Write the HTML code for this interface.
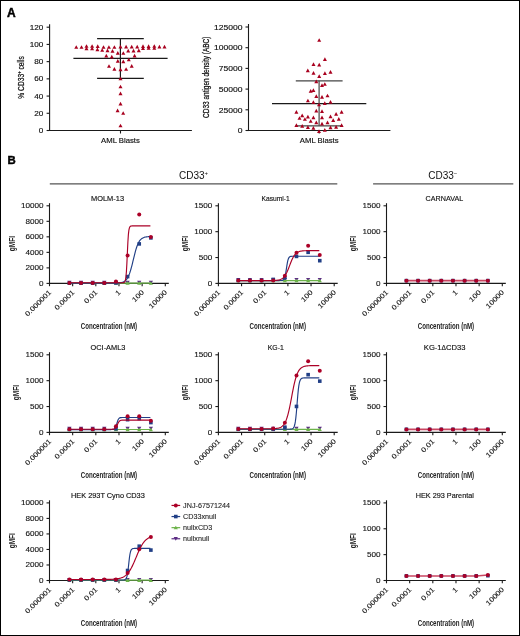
<!DOCTYPE html>
<html><head><meta charset="utf-8"><style>
html,body{margin:0;padding:0;background:#fff;}
svg{display:block;font-family:"Liberation Sans",sans-serif;will-change:transform;}
</style></head><body>
<svg width="520" height="636" viewBox="0 0 520 636">
<rect width="520" height="636" fill="#fff"/>
<rect x="0.5" y="0.5" width="519" height="635" fill="none" stroke="#000" stroke-width="1"/>
<text transform="translate(7,16.9)" font-size="12.0" text-anchor="start" font-weight="bold" fill="#000" stroke="#000" stroke-width="0.45">A</text>
<text transform="translate(7.4,164.1)" font-size="11.4" text-anchor="start" font-weight="bold" fill="#000" stroke="#000" stroke-width="0.45">B</text>
<line x1="49.6" y1="24.2" x2="49.6" y2="131.05" stroke="#1a1a1a" stroke-width="1.1"/>
<line x1="49.05" y1="130.5" x2="191.9" y2="130.5" stroke="#1a1a1a" stroke-width="1.1"/>
<line x1="46.6" y1="130.5" x2="49.6" y2="130.5" stroke="#1a1a1a" stroke-width="1.1"/>
<text transform="translate(43.4,133.1) scale(1.120,1)" font-size="7.3" text-anchor="end" font-weight="normal" fill="#111" stroke="#111" stroke-width="0.15">0</text>
<line x1="46.6" y1="113.28" x2="49.6" y2="113.28" stroke="#1a1a1a" stroke-width="1.1"/>
<text transform="translate(43.4,115.88) scale(1.120,1)" font-size="7.3" text-anchor="end" font-weight="normal" fill="#111" stroke="#111" stroke-width="0.15">20</text>
<line x1="46.6" y1="96.07" x2="49.6" y2="96.07" stroke="#1a1a1a" stroke-width="1.1"/>
<text transform="translate(43.4,98.67) scale(1.120,1)" font-size="7.3" text-anchor="end" font-weight="normal" fill="#111" stroke="#111" stroke-width="0.15">40</text>
<line x1="46.6" y1="78.85" x2="49.6" y2="78.85" stroke="#1a1a1a" stroke-width="1.1"/>
<text transform="translate(43.4,81.45) scale(1.120,1)" font-size="7.3" text-anchor="end" font-weight="normal" fill="#111" stroke="#111" stroke-width="0.15">60</text>
<line x1="46.6" y1="61.63" x2="49.6" y2="61.63" stroke="#1a1a1a" stroke-width="1.1"/>
<text transform="translate(43.4,64.23) scale(1.120,1)" font-size="7.3" text-anchor="end" font-weight="normal" fill="#111" stroke="#111" stroke-width="0.15">80</text>
<line x1="46.6" y1="44.42" x2="49.6" y2="44.42" stroke="#1a1a1a" stroke-width="1.1"/>
<text transform="translate(43.4,47.02) scale(1.120,1)" font-size="7.3" text-anchor="end" font-weight="normal" fill="#111" stroke="#111" stroke-width="0.15">100</text>
<line x1="46.6" y1="27.2" x2="49.6" y2="27.2" stroke="#1a1a1a" stroke-width="1.1"/>
<text transform="translate(43.4,29.8) scale(1.120,1)" font-size="7.3" text-anchor="end" font-weight="normal" fill="#111" stroke="#111" stroke-width="0.15">120</text>
<line x1="120.5" y1="130.5" x2="120.5" y2="133.5" stroke="#1a1a1a" stroke-width="1.1"/>
<text transform="translate(120.5,143.3) scale(1.090,1)" font-size="7.1" text-anchor="middle" font-weight="normal" fill="#111" stroke="#111" stroke-width="0.15">AML Blasts</text>
<text transform="translate(24.4,77.4) rotate(-90) scale(0.718,1)" font-size="9.3" text-anchor="middle" font-weight="normal" fill="#111" stroke="#111" stroke-width="0.25">% CD33<tspan font-size="6" dy="-3.4">+</tspan><tspan dy="3.4"> cells</tspan></text>
<line x1="73.4" y1="58.4" x2="167.6" y2="58.4" stroke="#1a1a1a" stroke-width="1.2"/>
<line x1="97.1" y1="38.7" x2="143.8" y2="38.7" stroke="#1a1a1a" stroke-width="1.2"/>
<line x1="97.1" y1="78.4" x2="143.8" y2="78.4" stroke="#1a1a1a" stroke-width="1.2"/>
<line x1="120.4" y1="38.7" x2="120.4" y2="78.4" stroke="#1a1a1a" stroke-width="1.2"/>
<path d="M74.25 48.84L76.25 45.16L78.25 48.84Z" fill="#a8001e"/>
<path d="M79.5 48.84L81.5 45.16L83.5 48.84Z" fill="#a8001e"/>
<path d="M84.5 47.84L86.5 44.16L88.5 47.84Z" fill="#a8001e"/>
<path d="M84.5 50.14L86.5 46.46L88.5 50.14Z" fill="#a8001e"/>
<path d="M90.1 47.84L92.1 44.16L94.1 47.84Z" fill="#a8001e"/>
<path d="M90.1 50.14L92.1 46.46L94.1 50.14Z" fill="#a8001e"/>
<path d="M95.7 48.04L97.7 44.36L99.7 48.04Z" fill="#a8001e"/>
<path d="M95.4 51.24L97.4 47.56L99.4 51.24Z" fill="#a8001e"/>
<path d="M101.5 48.84L103.5 45.16L105.5 48.84Z" fill="#a8001e"/>
<path d="M100.2 51.84L102.2 48.16L104.2 51.84Z" fill="#a8001e"/>
<path d="M106.9 48.84L108.9 45.16L110.9 48.84Z" fill="#a8001e"/>
<path d="M105.5 52.24L107.5 48.56L109.5 52.24Z" fill="#a8001e"/>
<path d="M112.4 48.84L114.4 45.16L116.4 48.84Z" fill="#a8001e"/>
<path d="M110.5 52.74L112.5 49.06L114.5 52.74Z" fill="#a8001e"/>
<path d="M115.8 54.64L117.8 50.96L119.8 54.64Z" fill="#a8001e"/>
<path d="M104.3 57.54L106.3 53.86L108.3 57.54Z" fill="#a8001e"/>
<path d="M109.8 58.44L111.8 54.76L113.8 58.44Z" fill="#a8001e"/>
<path d="M115.8 62.64L117.8 58.96L119.8 62.64Z" fill="#a8001e"/>
<path d="M107 67.84L109 64.16L111 67.84Z" fill="#a8001e"/>
<path d="M112.4 70.64L114.4 66.96L116.4 70.64Z" fill="#a8001e"/>
<path d="M118.5 48.44L120.5 44.76L122.5 48.44Z" fill="#a8001e"/>
<path d="M124.1 48.44L126.1 44.76L128.1 48.44Z" fill="#a8001e"/>
<path d="M129.7 48.44L131.7 44.76L133.7 48.44Z" fill="#a8001e"/>
<path d="M135.2 48.44L137.2 44.76L139.2 48.44Z" fill="#a8001e"/>
<path d="M141 48.04L143 44.36L145 48.04Z" fill="#a8001e"/>
<path d="M141 50.04L143 46.36L145 50.04Z" fill="#a8001e"/>
<path d="M146.6 48.04L148.6 44.36L150.6 48.04Z" fill="#a8001e"/>
<path d="M146.6 49.84L148.6 46.16L150.6 49.84Z" fill="#a8001e"/>
<path d="M152.3 47.84L154.3 44.16L156.3 47.84Z" fill="#a8001e"/>
<path d="M152.3 49.84L154.3 46.16L156.3 49.84Z" fill="#a8001e"/>
<path d="M157.4 48.44L159.4 44.76L161.4 48.44Z" fill="#a8001e"/>
<path d="M162.5 48.44L164.5 44.76L166.5 48.44Z" fill="#a8001e"/>
<path d="M121.3 54.84L123.3 51.16L125.3 54.84Z" fill="#a8001e"/>
<path d="M126.2 52.54L128.2 48.86L130.2 52.54Z" fill="#a8001e"/>
<path d="M131.5 52.54L133.5 48.86L135.5 52.54Z" fill="#a8001e"/>
<path d="M136.8 52.14L138.8 48.46L140.8 52.14Z" fill="#a8001e"/>
<path d="M132.6 57.44L134.6 53.76L136.6 57.44Z" fill="#a8001e"/>
<path d="M121.3 63.24L123.3 59.56L125.3 63.24Z" fill="#a8001e"/>
<path d="M126.8 61.34L128.8 57.66L130.8 61.34Z" fill="#a8001e"/>
<path d="M118.5 71.24L120.5 67.56L122.5 71.24Z" fill="#a8001e"/>
<path d="M124.1 70.84L126.1 67.16L128.1 70.84Z" fill="#a8001e"/>
<path d="M129.7 67.74L131.7 64.06L133.7 67.74Z" fill="#a8001e"/>
<path d="M118.5 80.24L120.5 76.56L122.5 80.24Z" fill="#a8001e"/>
<path d="M118.5 88.34L120.5 84.66L122.5 88.34Z" fill="#a8001e"/>
<path d="M118.5 95.14L120.5 91.46L122.5 95.14Z" fill="#a8001e"/>
<path d="M118.5 105.44L120.5 101.76L122.5 105.44Z" fill="#a8001e"/>
<path d="M115.6 112.24L117.6 108.56L119.6 112.24Z" fill="#a8001e"/>
<path d="M121.2 114.84L123.2 111.16L125.2 114.84Z" fill="#a8001e"/>
<path d="M118.5 127.34L120.5 123.66L122.5 127.34Z" fill="#a8001e"/>
<line x1="248.5" y1="24" x2="248.5" y2="131.05" stroke="#1a1a1a" stroke-width="1.1"/>
<line x1="247.95" y1="130.5" x2="390.4" y2="130.5" stroke="#1a1a1a" stroke-width="1.1"/>
<line x1="245.5" y1="130.5" x2="248.5" y2="130.5" stroke="#1a1a1a" stroke-width="1.1"/>
<text transform="translate(242.6,133.2) scale(1.140,1)" font-size="7.5" text-anchor="end" font-weight="normal" fill="#111" stroke="#111" stroke-width="0.15">0</text>
<line x1="245.5" y1="109.8" x2="248.5" y2="109.8" stroke="#1a1a1a" stroke-width="1.1"/>
<text transform="translate(242.6,112.5) scale(1.140,1)" font-size="7.5" text-anchor="end" font-weight="normal" fill="#111" stroke="#111" stroke-width="0.15">25000</text>
<line x1="245.5" y1="89.1" x2="248.5" y2="89.1" stroke="#1a1a1a" stroke-width="1.1"/>
<text transform="translate(242.6,91.8) scale(1.140,1)" font-size="7.5" text-anchor="end" font-weight="normal" fill="#111" stroke="#111" stroke-width="0.15">50000</text>
<line x1="245.5" y1="68.4" x2="248.5" y2="68.4" stroke="#1a1a1a" stroke-width="1.1"/>
<text transform="translate(242.6,71.1) scale(1.140,1)" font-size="7.5" text-anchor="end" font-weight="normal" fill="#111" stroke="#111" stroke-width="0.15">75000</text>
<line x1="245.5" y1="47.7" x2="248.5" y2="47.7" stroke="#1a1a1a" stroke-width="1.1"/>
<text transform="translate(242.6,50.4) scale(1.140,1)" font-size="7.5" text-anchor="end" font-weight="normal" fill="#111" stroke="#111" stroke-width="0.15">100000</text>
<line x1="245.5" y1="27" x2="248.5" y2="27" stroke="#1a1a1a" stroke-width="1.1"/>
<text transform="translate(242.6,29.7) scale(1.140,1)" font-size="7.5" text-anchor="end" font-weight="normal" fill="#111" stroke="#111" stroke-width="0.15">125000</text>
<line x1="319.2" y1="130.5" x2="319.2" y2="133.5" stroke="#1a1a1a" stroke-width="1.1"/>
<text transform="translate(319.2,143) scale(1.090,1)" font-size="7.1" text-anchor="middle" font-weight="normal" fill="#111" stroke="#111" stroke-width="0.15">AML Blasts</text>
<text transform="translate(209.3,77.25) rotate(-90) scale(0.721,1)" font-size="9.0" text-anchor="middle" font-weight="normal" fill="#111" stroke="#111" stroke-width="0.25">CD33 antigen density (ABC)</text>
<line x1="272" y1="103.55" x2="366.3" y2="103.55" stroke="#1a1a1a" stroke-width="1.2"/>
<line x1="295.8" y1="80.8" x2="342.6" y2="80.8" stroke="#444" stroke-width="1.2"/>
<line x1="295.8" y1="125.8" x2="342.6" y2="125.8" stroke="#444" stroke-width="1.2"/>
<line x1="319.1" y1="80.8" x2="319.1" y2="125.8" stroke="#444" stroke-width="1.2"/>
<path d="M317.2 41.84L319.2 38.16L321.2 41.84Z" fill="#a8001e"/>
<path d="M322.9 61.04L324.9 57.36L326.9 61.04Z" fill="#a8001e"/>
<path d="M311.5 66.04L313.5 62.36L315.5 66.04Z" fill="#a8001e"/>
<path d="M317.2 66.44L319.2 62.76L321.2 66.44Z" fill="#a8001e"/>
<path d="M305.8 72.14L307.8 68.46L309.8 72.14Z" fill="#a8001e"/>
<path d="M311.5 74.64L313.5 70.96L315.5 74.64Z" fill="#a8001e"/>
<path d="M322.9 74.94L324.9 71.26L326.9 74.94Z" fill="#a8001e"/>
<path d="M328.5 73.64L330.5 69.96L332.5 73.64Z" fill="#a8001e"/>
<path d="M317.2 78.04L319.2 74.36L321.2 78.04Z" fill="#a8001e"/>
<path d="M314.3 83.14L316.3 79.46L318.3 83.14Z" fill="#a8001e"/>
<path d="M320 86.94L322 83.26L324 86.94Z" fill="#a8001e"/>
<path d="M322.8 85.84L324.8 82.16L326.8 85.84Z" fill="#a8001e"/>
<path d="M308.7 92.64L310.7 88.96L312.7 92.64Z" fill="#a8001e"/>
<path d="M311.4 91.94L313.4 88.26L315.4 91.94Z" fill="#a8001e"/>
<path d="M314.3 98.04L316.3 94.36L318.3 98.04Z" fill="#a8001e"/>
<path d="M320 98.64L322 94.96L324 98.64Z" fill="#a8001e"/>
<path d="M325.5 97.34L327.5 93.66L329.5 97.34Z" fill="#a8001e"/>
<path d="M305.9 102.34L307.9 98.66L309.9 102.34Z" fill="#a8001e"/>
<path d="M311.4 104.04L313.4 100.36L315.4 104.04Z" fill="#a8001e"/>
<path d="M322.8 104.94L324.8 101.26L326.8 104.94Z" fill="#a8001e"/>
<path d="M328.5 103.64L330.5 99.96L332.5 103.64Z" fill="#a8001e"/>
<path d="M317 106.34L319 102.66L321 106.34Z" fill="#a8001e"/>
<path d="M294.4 113.74L296.4 110.06L298.4 113.74Z" fill="#a8001e"/>
<path d="M314.3 112.54L316.3 108.86L318.3 112.54Z" fill="#a8001e"/>
<path d="M320 113.04L322 109.36L324 113.04Z" fill="#a8001e"/>
<path d="M339.6 113.74L341.6 110.06L343.6 113.74Z" fill="#a8001e"/>
<path d="M300.2 117.14L302.2 113.46L304.2 117.14Z" fill="#a8001e"/>
<path d="M334.1 115.74L336.1 112.06L338.1 115.74Z" fill="#a8001e"/>
<path d="M297.5 119.84L299.5 116.16L301.5 119.84Z" fill="#a8001e"/>
<path d="M302.9 120.84L304.9 117.16L306.9 120.84Z" fill="#a8001e"/>
<path d="M305.9 118.44L307.9 114.76L309.9 118.44Z" fill="#a8001e"/>
<path d="M311.4 119.24L313.4 115.56L315.4 119.24Z" fill="#a8001e"/>
<path d="M320 119.24L322 115.56L324 119.24Z" fill="#a8001e"/>
<path d="M328.5 118.14L330.5 114.46L332.5 118.14Z" fill="#a8001e"/>
<path d="M331.2 121.94L333.2 118.26L335.2 121.94Z" fill="#a8001e"/>
<path d="M336.8 120.64L338.8 116.96L340.8 120.64Z" fill="#a8001e"/>
<path d="M308.7 122.84L310.7 119.16L312.7 122.84Z" fill="#a8001e"/>
<path d="M314.3 124.24L316.3 120.56L318.3 124.24Z" fill="#a8001e"/>
<path d="M320 125.54L322 121.86L324 125.54Z" fill="#a8001e"/>
<path d="M325.5 124.24L327.5 120.56L329.5 124.24Z" fill="#a8001e"/>
<path d="M294.4 126.94L296.4 123.26L298.4 126.94Z" fill="#a8001e"/>
<path d="M300.2 127.64L302.2 123.96L304.2 127.64Z" fill="#a8001e"/>
<path d="M339.6 126.94L341.6 123.26L343.6 126.94Z" fill="#a8001e"/>
<path d="M305.9 128.94L307.9 125.26L309.9 128.94Z" fill="#a8001e"/>
<path d="M311.4 129.64L313.4 125.96L315.4 129.64Z" fill="#a8001e"/>
<path d="M328.5 129.24L330.5 125.56L332.5 129.24Z" fill="#a8001e"/>
<path d="M334.1 128.64L336.1 124.96L338.1 128.64Z" fill="#a8001e"/>
<path d="M317 132.94L319 129.26L321 132.94Z" fill="#a8001e"/>
<path d="M322.8 131.64L324.8 127.96L326.8 131.64Z" fill="#a8001e"/>
<line x1="49.8" y1="183.8" x2="337.3" y2="183.8" stroke="#555" stroke-width="1.3"/>
<line x1="373.1" y1="183.9" x2="513.3" y2="183.9" stroke="#555" stroke-width="1.3"/>
<text transform="translate(193.5,178.8)" font-size="10" text-anchor="middle" font-weight="normal" fill="#111">CD33<tspan font-size="6" dy="-4">+</tspan></text>
<text transform="translate(442.8,179.2)" font-size="10" text-anchor="middle" font-weight="normal" fill="#111">CD33<tspan font-size="6" dy="-4">−</tspan></text>
<line x1="49.5" y1="203.2" x2="49.5" y2="283.95" stroke="#1a1a1a" stroke-width="1.1"/>
<line x1="48.95" y1="283.4" x2="168.8" y2="283.4" stroke="#1a1a1a" stroke-width="1.1"/>
<line x1="46.5" y1="283.4" x2="49.5" y2="283.4" stroke="#1a1a1a" stroke-width="1.1"/>
<text transform="translate(43.5,285.8) scale(1.180,1)" font-size="6.9" text-anchor="end" font-weight="normal" fill="#111" stroke="#111" stroke-width="0.1">0</text>
<line x1="46.5" y1="267.88" x2="49.5" y2="267.88" stroke="#1a1a1a" stroke-width="1.1"/>
<text transform="translate(43.5,270.28) scale(1.180,1)" font-size="6.9" text-anchor="end" font-weight="normal" fill="#111" stroke="#111" stroke-width="0.1">2000</text>
<line x1="46.5" y1="252.36" x2="49.5" y2="252.36" stroke="#1a1a1a" stroke-width="1.1"/>
<text transform="translate(43.5,254.76) scale(1.180,1)" font-size="6.9" text-anchor="end" font-weight="normal" fill="#111" stroke="#111" stroke-width="0.1">4000</text>
<line x1="46.5" y1="236.84" x2="49.5" y2="236.84" stroke="#1a1a1a" stroke-width="1.1"/>
<text transform="translate(43.5,239.24) scale(1.180,1)" font-size="6.9" text-anchor="end" font-weight="normal" fill="#111" stroke="#111" stroke-width="0.1">6000</text>
<line x1="46.5" y1="221.32" x2="49.5" y2="221.32" stroke="#1a1a1a" stroke-width="1.1"/>
<text transform="translate(43.5,223.72) scale(1.180,1)" font-size="6.9" text-anchor="end" font-weight="normal" fill="#111" stroke="#111" stroke-width="0.1">8000</text>
<line x1="46.5" y1="205.8" x2="49.5" y2="205.8" stroke="#1a1a1a" stroke-width="1.1"/>
<text transform="translate(43.5,208.2) scale(1.180,1)" font-size="6.9" text-anchor="end" font-weight="normal" fill="#111" stroke="#111" stroke-width="0.1">10000</text>
<line x1="49.5" y1="283.4" x2="49.5" y2="286.2" stroke="#1a1a1a" stroke-width="1.1"/>
<text transform="translate(51.7,292.9) rotate(-45) scale(1.180,1)" font-size="6.9" text-anchor="end" font-weight="normal" fill="#111" stroke="#111" stroke-width="0.1">0.000001</text>
<line x1="72.66" y1="283.4" x2="72.66" y2="286.2" stroke="#1a1a1a" stroke-width="1.1"/>
<text transform="translate(74.86,292.9) rotate(-45) scale(1.180,1)" font-size="6.9" text-anchor="end" font-weight="normal" fill="#111" stroke="#111" stroke-width="0.1">0.0001</text>
<line x1="95.82" y1="283.4" x2="95.82" y2="286.2" stroke="#1a1a1a" stroke-width="1.1"/>
<text transform="translate(98.02,292.9) rotate(-45) scale(1.180,1)" font-size="6.9" text-anchor="end" font-weight="normal" fill="#111" stroke="#111" stroke-width="0.1">0.01</text>
<line x1="118.98" y1="283.4" x2="118.98" y2="286.2" stroke="#1a1a1a" stroke-width="1.1"/>
<text transform="translate(121.18,292.9) rotate(-45) scale(1.180,1)" font-size="6.9" text-anchor="end" font-weight="normal" fill="#111" stroke="#111" stroke-width="0.1">1</text>
<line x1="142.14" y1="283.4" x2="142.14" y2="286.2" stroke="#1a1a1a" stroke-width="1.1"/>
<text transform="translate(144.34,292.9) rotate(-45) scale(1.180,1)" font-size="6.9" text-anchor="end" font-weight="normal" fill="#111" stroke="#111" stroke-width="0.1">100</text>
<line x1="165.3" y1="283.4" x2="165.3" y2="286.2" stroke="#1a1a1a" stroke-width="1.1"/>
<text transform="translate(167.5,292.9) rotate(-45) scale(1.180,1)" font-size="6.9" text-anchor="end" font-weight="normal" fill="#111" stroke="#111" stroke-width="0.1">10000</text>
<text transform="translate(108.9,328.9) scale(0.623,1)" font-size="9.9" text-anchor="middle" font-weight="bold" fill="#222">Concentration (nM)</text>
<text transform="translate(91,201.1) scale(0.967,1)" font-size="7.7" text-anchor="start" font-weight="normal" fill="#111" stroke="#111" stroke-width="0.15">MOLM-13</text>
<text transform="translate(14.9,243.6) rotate(-90) scale(0.679,1)" font-size="9.6" text-anchor="middle" font-weight="bold" fill="#222">gMFI</text>
<path d="M67.3 280.81L69.4 284.41L71.5 280.81Z" fill="#5b2b84"/>
<path d="M78.94 280.81L81.04 284.41L83.14 280.81Z" fill="#5b2b84"/>
<path d="M90.58 280.81L92.68 284.41L94.78 280.81Z" fill="#5b2b84"/>
<path d="M102.22 280.81L104.32 284.41L106.42 280.81Z" fill="#5b2b84"/>
<path d="M113.86 280.81L115.96 284.41L118.06 280.81Z" fill="#5b2b84"/>
<path d="M125.5 280.81L127.6 284.41L129.7 280.81Z" fill="#5b2b84"/>
<path d="M137.14 280.81L139.24 284.41L141.34 280.81Z" fill="#5b2b84"/>
<path d="M148.78 280.81L150.88 284.41L152.98 280.81Z" fill="#5b2b84"/>
<path d="M69.4 283.09 L81.04 283.09 L92.68 283.09 L104.32 283.09 L115.96 283.09 L127.6 283.09 L139.24 283.09 L150.88 283.09" fill="none" stroke="#6cb34a" stroke-width="1.15"/>
<path d="M67.3 284.79L69.4 281.19L71.5 284.79Z" fill="#6cb34a"/>
<path d="M78.94 284.79L81.04 281.19L83.14 284.79Z" fill="#6cb34a"/>
<path d="M90.58 284.79L92.68 281.19L94.78 284.79Z" fill="#6cb34a"/>
<path d="M102.22 284.79L104.32 281.19L106.42 284.79Z" fill="#6cb34a"/>
<path d="M113.86 284.79L115.96 281.19L118.06 284.79Z" fill="#6cb34a"/>
<path d="M125.5 284.79L127.6 281.19L129.7 284.79Z" fill="#6cb34a"/>
<path d="M137.14 284.79L139.24 281.19L141.34 284.79Z" fill="#6cb34a"/>
<path d="M148.78 284.79L150.88 281.19L152.98 284.79Z" fill="#6cb34a"/>
<path d="M69.4 283.17 L69.9 283.17 L70.4 283.17 L70.9 283.17 L71.4 283.17 L71.9 283.17 L72.4 283.17 L72.9 283.17 L73.4 283.17 L73.9 283.17 L74.4 283.17 L74.9 283.17 L75.4 283.17 L75.9 283.17 L76.4 283.17 L76.9 283.17 L77.4 283.17 L77.9 283.17 L78.4 283.17 L78.9 283.17 L79.4 283.17 L79.9 283.17 L80.4 283.17 L80.9 283.17 L81.4 283.17 L81.9 283.17 L82.4 283.17 L82.9 283.17 L83.4 283.17 L83.9 283.17 L84.4 283.17 L84.9 283.17 L85.4 283.17 L85.9 283.17 L86.4 283.17 L86.9 283.17 L87.4 283.17 L87.9 283.17 L88.4 283.17 L88.9 283.17 L89.4 283.17 L89.9 283.17 L90.4 283.17 L90.9 283.17 L91.4 283.17 L91.9 283.17 L92.4 283.17 L92.9 283.17 L93.4 283.17 L93.9 283.17 L94.4 283.17 L94.9 283.17 L95.4 283.17 L95.9 283.17 L96.4 283.17 L96.9 283.17 L97.4 283.17 L97.9 283.17 L98.4 283.17 L98.9 283.17 L99.4 283.17 L99.9 283.17 L100.4 283.17 L100.9 283.17 L101.4 283.17 L101.9 283.17 L102.4 283.17 L102.9 283.17 L103.4 283.17 L103.9 283.17 L104.4 283.17 L104.9 283.17 L105.4 283.17 L105.9 283.16 L106.4 283.16 L106.9 283.16 L107.4 283.16 L107.9 283.16 L108.4 283.16 L108.9 283.16 L109.4 283.16 L109.9 283.16 L110.4 283.15 L110.9 283.15 L111.4 283.15 L111.9 283.15 L112.4 283.14 L112.9 283.14 L113.4 283.13 L113.9 283.12 L114.4 283.11 L114.9 283.1 L115.4 283.09 L115.9 283.08 L116.4 283.06 L116.9 283.04 L117.4 283.01 L117.9 282.98 L118.4 282.94 L118.9 282.9 L119.4 282.85 L119.9 282.78 L120.4 282.71 L120.9 282.62 L121.4 282.52 L121.9 282.39 L122.4 282.24 L122.9 282.06 L123.4 281.85 L123.9 281.61 L124.4 281.31 L124.9 280.97 L125.4 280.56 L125.9 280.08 L126.4 279.52 L126.9 278.87 L127.4 278.12 L127.9 277.26 L128.4 276.27 L128.9 275.15 L129.4 273.9 L129.9 272.49 L130.4 270.95 L130.9 269.27 L131.4 267.46 L131.9 265.54 L132.4 263.54 L132.9 261.48 L133.4 259.39 L133.9 257.31 L134.4 255.27 L134.9 253.3 L135.4 251.42 L135.9 249.66 L136.4 248.04 L136.9 246.55 L137.4 245.2 L137.9 244 L138.4 242.94 L138.9 242 L139.4 241.18 L139.9 240.47 L140.4 239.86 L140.9 239.34 L141.4 238.89 L141.9 238.51 L142.4 238.18 L142.9 237.91 L143.4 237.68 L143.9 237.48 L144.4 237.31 L144.9 237.18 L145.4 237.06 L145.9 236.96 L146.4 236.88 L146.9 236.81 L147.4 236.75 L147.9 236.7 L148.4 236.66 L148.9 236.63 L149.4 236.6 L149.9 236.57 L150.4 236.55" fill="none" stroke="#213f86" stroke-width="1.15"/>
<rect x="67.6" y="281.37" width="3.6" height="3.6" fill="#213f86"/>
<rect x="79.24" y="281.37" width="3.6" height="3.6" fill="#213f86"/>
<rect x="90.88" y="281.37" width="3.6" height="3.6" fill="#213f86"/>
<rect x="102.52" y="281.37" width="3.6" height="3.6" fill="#213f86"/>
<rect x="114.16" y="281.13" width="3.6" height="3.6" fill="#213f86"/>
<rect x="125.8" y="274.8" width="3.6" height="3.6" fill="#213f86"/>
<rect x="137.44" y="242.1" width="3.6" height="3.6" fill="#213f86"/>
<rect x="149.08" y="236.1" width="3.6" height="3.6" fill="#213f86"/>
<path d="M69.4 282.78 L69.9 282.78 L70.4 282.78 L70.9 282.78 L71.4 282.78 L71.9 282.78 L72.4 282.78 L72.9 282.78 L73.4 282.78 L73.9 282.78 L74.4 282.78 L74.9 282.78 L75.4 282.78 L75.9 282.78 L76.4 282.78 L76.9 282.78 L77.4 282.78 L77.9 282.78 L78.4 282.78 L78.9 282.78 L79.4 282.78 L79.9 282.78 L80.4 282.78 L80.9 282.78 L81.4 282.78 L81.9 282.78 L82.4 282.78 L82.9 282.78 L83.4 282.78 L83.9 282.78 L84.4 282.78 L84.9 282.78 L85.4 282.78 L85.9 282.78 L86.4 282.78 L86.9 282.78 L87.4 282.78 L87.9 282.78 L88.4 282.78 L88.9 282.78 L89.4 282.78 L89.9 282.78 L90.4 282.78 L90.9 282.78 L91.4 282.78 L91.9 282.78 L92.4 282.78 L92.9 282.78 L93.4 282.78 L93.9 282.78 L94.4 282.78 L94.9 282.78 L95.4 282.78 L95.9 282.78 L96.4 282.78 L96.9 282.78 L97.4 282.78 L97.9 282.78 L98.4 282.78 L98.9 282.78 L99.4 282.78 L99.9 282.78 L100.4 282.78 L100.9 282.78 L101.4 282.78 L101.9 282.78 L102.4 282.78 L102.9 282.78 L103.4 282.78 L103.9 282.78 L104.4 282.78 L104.9 282.78 L105.4 282.78 L105.9 282.78 L106.4 282.78 L106.9 282.78 L107.4 282.78 L107.9 282.78 L108.4 282.78 L108.9 282.78 L109.4 282.78 L109.9 282.78 L110.4 282.78 L110.9 282.78 L111.4 282.78 L111.9 282.78 L112.4 282.78 L112.9 282.78 L113.4 282.78 L113.9 282.78 L114.4 282.78 L114.9 282.78 L115.4 282.78 L115.9 282.78 L116.4 282.78 L116.9 282.78 L117.4 282.78 L117.9 282.78 L118.4 282.78 L118.9 282.78 L119.4 282.78 L119.9 282.78 L120.4 282.78 L120.9 282.78 L121.4 282.77 L121.9 282.77 L122.4 282.76 L122.9 282.73 L123.4 282.66 L123.9 282.53 L124.4 282.22 L124.9 281.56 L125.4 280.14 L125.9 277.24 L126.4 271.81 L126.9 263.09 L127.4 252.08 L127.9 241.71 L128.4 234.32 L128.9 230.04 L129.4 227.84 L129.9 226.79 L130.4 226.31 L130.9 226.08 L131.4 225.98 L131.9 225.94 L132.4 225.92 L132.9 225.91 L133.4 225.9 L133.9 225.9 L134.4 225.9 L134.9 225.9 L135.4 225.9 L135.9 225.9 L136.4 225.9 L136.9 225.9 L137.4 225.9 L137.9 225.9 L138.4 225.9 L138.9 225.9 L139.4 225.9 L139.9 225.9 L140.4 225.9 L140.9 225.9 L141.4 225.9 L141.9 225.9 L142.4 225.9 L142.9 225.9 L143.4 225.9 L143.9 225.9 L144.4 225.9 L144.9 225.9 L145.4 225.9 L145.9 225.9 L146.4 225.9 L146.9 225.9 L147.4 225.9 L147.9 225.9 L148.4 225.9 L148.9 225.9 L149.4 225.9 L149.9 225.9 L150.4 225.9" fill="none" stroke="#ab0027" stroke-width="1.15"/>
<circle cx="69.4" cy="282.93" r="2.0" fill="#ab0027"/>
<circle cx="81.04" cy="282.93" r="2.0" fill="#ab0027"/>
<circle cx="92.68" cy="282.93" r="2.0" fill="#ab0027"/>
<circle cx="104.32" cy="282.93" r="2.0" fill="#ab0027"/>
<circle cx="115.96" cy="281.6" r="2.0" fill="#ab0027"/>
<circle cx="127.6" cy="255.5" r="2.0" fill="#ab0027"/>
<circle cx="139.24" cy="214.5" r="2.0" fill="#ab0027"/>
<circle cx="150.88" cy="237" r="2.0" fill="#ab0027"/>
<line x1="218.4" y1="203.2" x2="218.4" y2="283.95" stroke="#1a1a1a" stroke-width="1.1"/>
<line x1="217.85" y1="283.4" x2="337.7" y2="283.4" stroke="#1a1a1a" stroke-width="1.1"/>
<line x1="215.4" y1="283.4" x2="218.4" y2="283.4" stroke="#1a1a1a" stroke-width="1.1"/>
<text transform="translate(212.4,285.8) scale(1.180,1)" font-size="6.9" text-anchor="end" font-weight="normal" fill="#111" stroke="#111" stroke-width="0.1">0</text>
<line x1="215.4" y1="257.53" x2="218.4" y2="257.53" stroke="#1a1a1a" stroke-width="1.1"/>
<text transform="translate(212.4,259.93) scale(1.180,1)" font-size="6.9" text-anchor="end" font-weight="normal" fill="#111" stroke="#111" stroke-width="0.1">500</text>
<line x1="215.4" y1="231.67" x2="218.4" y2="231.67" stroke="#1a1a1a" stroke-width="1.1"/>
<text transform="translate(212.4,234.07) scale(1.180,1)" font-size="6.9" text-anchor="end" font-weight="normal" fill="#111" stroke="#111" stroke-width="0.1">1000</text>
<line x1="215.4" y1="205.8" x2="218.4" y2="205.8" stroke="#1a1a1a" stroke-width="1.1"/>
<text transform="translate(212.4,208.2) scale(1.180,1)" font-size="6.9" text-anchor="end" font-weight="normal" fill="#111" stroke="#111" stroke-width="0.1">1500</text>
<line x1="218.4" y1="283.4" x2="218.4" y2="286.2" stroke="#1a1a1a" stroke-width="1.1"/>
<text transform="translate(220.6,292.9) rotate(-45) scale(1.180,1)" font-size="6.9" text-anchor="end" font-weight="normal" fill="#111" stroke="#111" stroke-width="0.1">0.000001</text>
<line x1="241.56" y1="283.4" x2="241.56" y2="286.2" stroke="#1a1a1a" stroke-width="1.1"/>
<text transform="translate(243.76,292.9) rotate(-45) scale(1.180,1)" font-size="6.9" text-anchor="end" font-weight="normal" fill="#111" stroke="#111" stroke-width="0.1">0.0001</text>
<line x1="264.72" y1="283.4" x2="264.72" y2="286.2" stroke="#1a1a1a" stroke-width="1.1"/>
<text transform="translate(266.92,292.9) rotate(-45) scale(1.180,1)" font-size="6.9" text-anchor="end" font-weight="normal" fill="#111" stroke="#111" stroke-width="0.1">0.01</text>
<line x1="287.88" y1="283.4" x2="287.88" y2="286.2" stroke="#1a1a1a" stroke-width="1.1"/>
<text transform="translate(290.08,292.9) rotate(-45) scale(1.180,1)" font-size="6.9" text-anchor="end" font-weight="normal" fill="#111" stroke="#111" stroke-width="0.1">1</text>
<line x1="311.04" y1="283.4" x2="311.04" y2="286.2" stroke="#1a1a1a" stroke-width="1.1"/>
<text transform="translate(313.24,292.9) rotate(-45) scale(1.180,1)" font-size="6.9" text-anchor="end" font-weight="normal" fill="#111" stroke="#111" stroke-width="0.1">100</text>
<line x1="334.2" y1="283.4" x2="334.2" y2="286.2" stroke="#1a1a1a" stroke-width="1.1"/>
<text transform="translate(336.4,292.9) rotate(-45) scale(1.180,1)" font-size="6.9" text-anchor="end" font-weight="normal" fill="#111" stroke="#111" stroke-width="0.1">10000</text>
<text transform="translate(277.8,328.9) scale(0.623,1)" font-size="9.9" text-anchor="middle" font-weight="bold" fill="#222">Concentration (nM)</text>
<text transform="translate(261.5,201.1) scale(0.870,1)" font-size="7.7" text-anchor="start" font-weight="normal" fill="#111" stroke="#111" stroke-width="0.15">Kasumi-1</text>
<text transform="translate(187.9,243.6) rotate(-90) scale(0.679,1)" font-size="9.6" text-anchor="middle" font-weight="bold" fill="#222">gMFI</text>
<path d="M236.2 277.98L238.3 281.58L240.4 277.98Z" fill="#5b2b84"/>
<path d="M247.84 277.98L249.94 281.58L252.04 277.98Z" fill="#5b2b84"/>
<path d="M259.48 277.98L261.58 281.58L263.68 277.98Z" fill="#5b2b84"/>
<path d="M271.12 277.98L273.22 281.58L275.32 277.98Z" fill="#5b2b84"/>
<path d="M282.76 277.98L284.86 281.58L286.96 277.98Z" fill="#5b2b84"/>
<path d="M294.4 277.98L296.5 281.58L298.6 277.98Z" fill="#5b2b84"/>
<path d="M306.04 277.98L308.14 281.58L310.24 277.98Z" fill="#5b2b84"/>
<path d="M317.68 277.98L319.78 281.58L321.88 277.98Z" fill="#5b2b84"/>
<path d="M238.3 280.61 L249.94 280.61 L261.58 280.61 L273.22 280.61 L284.86 280.61 L296.5 280.61 L308.14 280.61 L319.78 280.61" fill="none" stroke="#6cb34a" stroke-width="1.15"/>
<path d="M236.2 282.31L238.3 278.71L240.4 282.31Z" fill="#6cb34a"/>
<path d="M247.84 282.31L249.94 278.71L252.04 282.31Z" fill="#6cb34a"/>
<path d="M259.48 282.31L261.58 278.71L263.68 282.31Z" fill="#6cb34a"/>
<path d="M271.12 282.31L273.22 278.71L275.32 282.31Z" fill="#6cb34a"/>
<path d="M282.76 282.31L284.86 278.71L286.96 282.31Z" fill="#6cb34a"/>
<path d="M294.4 282.31L296.5 278.71L298.6 282.31Z" fill="#6cb34a"/>
<path d="M306.04 282.31L308.14 278.71L310.24 282.31Z" fill="#6cb34a"/>
<path d="M317.68 282.31L319.78 278.71L321.88 282.31Z" fill="#6cb34a"/>
<path d="M238.3 280.55 L238.8 280.55 L239.3 280.55 L239.8 280.55 L240.3 280.55 L240.8 280.55 L241.3 280.55 L241.8 280.55 L242.3 280.55 L242.8 280.55 L243.3 280.55 L243.8 280.55 L244.3 280.55 L244.8 280.55 L245.3 280.55 L245.8 280.55 L246.3 280.55 L246.8 280.55 L247.3 280.55 L247.8 280.55 L248.3 280.55 L248.8 280.55 L249.3 280.55 L249.8 280.55 L250.3 280.55 L250.8 280.55 L251.3 280.55 L251.8 280.55 L252.3 280.55 L252.8 280.55 L253.3 280.55 L253.8 280.55 L254.3 280.55 L254.8 280.55 L255.3 280.55 L255.8 280.55 L256.3 280.55 L256.8 280.55 L257.3 280.55 L257.8 280.55 L258.3 280.55 L258.8 280.55 L259.3 280.55 L259.8 280.55 L260.3 280.55 L260.8 280.55 L261.3 280.55 L261.8 280.55 L262.3 280.55 L262.8 280.55 L263.3 280.55 L263.8 280.55 L264.3 280.55 L264.8 280.55 L265.3 280.55 L265.8 280.55 L266.3 280.55 L266.8 280.55 L267.3 280.55 L267.8 280.55 L268.3 280.55 L268.8 280.55 L269.3 280.55 L269.8 280.55 L270.3 280.55 L270.8 280.55 L271.3 280.55 L271.8 280.55 L272.3 280.55 L272.8 280.55 L273.3 280.55 L273.8 280.55 L274.3 280.55 L274.8 280.55 L275.3 280.55 L275.8 280.55 L276.3 280.55 L276.8 280.55 L277.3 280.55 L277.8 280.55 L278.3 280.55 L278.8 280.55 L279.3 280.55 L279.8 280.54 L280.3 280.53 L280.8 280.51 L281.3 280.48 L281.8 280.42 L282.3 280.32 L282.8 280.14 L283.3 279.85 L283.8 279.35 L284.3 278.52 L284.8 277.21 L285.3 275.27 L285.8 272.61 L286.3 269.41 L286.8 266.06 L287.3 263.04 L287.8 260.66 L288.3 258.99 L288.8 257.9 L289.3 257.22 L289.8 256.81 L290.3 256.57 L290.8 256.43 L291.3 256.35 L291.8 256.3 L292.3 256.28 L292.8 256.26 L293.3 256.25 L293.8 256.25 L294.3 256.24 L294.8 256.24 L295.3 256.24 L295.8 256.24 L296.3 256.24 L296.8 256.24 L297.3 256.24 L297.8 256.24 L298.3 256.24 L298.8 256.24 L299.3 256.24 L299.8 256.24 L300.3 256.24 L300.8 256.24 L301.3 256.24 L301.8 256.24 L302.3 256.24 L302.8 256.24 L303.3 256.24 L303.8 256.24 L304.3 256.24 L304.8 256.24 L305.3 256.24 L305.8 256.24 L306.3 256.24 L306.8 256.24 L307.3 256.24 L307.8 256.24 L308.3 256.24 L308.8 256.24 L309.3 256.24 L309.8 256.24 L310.3 256.24 L310.8 256.24 L311.3 256.24 L311.8 256.24 L312.3 256.24 L312.8 256.24 L313.3 256.24 L313.8 256.24 L314.3 256.24 L314.8 256.24 L315.3 256.24 L315.8 256.24 L316.3 256.24 L316.8 256.24 L317.3 256.24 L317.8 256.24 L318.3 256.24 L318.8 256.24 L319.3 256.24" fill="none" stroke="#213f86" stroke-width="1.15"/>
<rect x="236.5" y="278.6" width="3.6" height="3.6" fill="#213f86"/>
<rect x="248.14" y="278.7" width="3.6" height="3.6" fill="#213f86"/>
<rect x="259.78" y="278.7" width="3.6" height="3.6" fill="#213f86"/>
<rect x="271.42" y="277.62" width="3.6" height="3.6" fill="#213f86"/>
<rect x="283.06" y="275.91" width="3.6" height="3.6" fill="#213f86"/>
<rect x="294.7" y="254.6" width="3.6" height="3.6" fill="#213f86"/>
<rect x="306.34" y="250.51" width="3.6" height="3.6" fill="#213f86"/>
<rect x="317.98" y="258.89" width="3.6" height="3.6" fill="#213f86"/>
<path d="M238.3 280.61 L238.8 280.61 L239.3 280.61 L239.8 280.61 L240.3 280.61 L240.8 280.61 L241.3 280.61 L241.8 280.61 L242.3 280.61 L242.8 280.61 L243.3 280.61 L243.8 280.61 L244.3 280.61 L244.8 280.61 L245.3 280.61 L245.8 280.61 L246.3 280.61 L246.8 280.61 L247.3 280.61 L247.8 280.61 L248.3 280.61 L248.8 280.61 L249.3 280.61 L249.8 280.61 L250.3 280.61 L250.8 280.61 L251.3 280.61 L251.8 280.61 L252.3 280.61 L252.8 280.61 L253.3 280.61 L253.8 280.61 L254.3 280.61 L254.8 280.61 L255.3 280.61 L255.8 280.61 L256.3 280.61 L256.8 280.61 L257.3 280.61 L257.8 280.61 L258.3 280.61 L258.8 280.61 L259.3 280.61 L259.8 280.61 L260.3 280.61 L260.8 280.61 L261.3 280.6 L261.8 280.6 L262.3 280.6 L262.8 280.6 L263.3 280.6 L263.8 280.6 L264.3 280.6 L264.8 280.6 L265.3 280.6 L265.8 280.6 L266.3 280.6 L266.8 280.6 L267.3 280.59 L267.8 280.59 L268.3 280.59 L268.8 280.59 L269.3 280.58 L269.8 280.58 L270.3 280.57 L270.8 280.57 L271.3 280.56 L271.8 280.55 L272.3 280.54 L272.8 280.53 L273.3 280.51 L273.8 280.49 L274.3 280.47 L274.8 280.44 L275.3 280.41 L275.8 280.37 L276.3 280.33 L276.8 280.28 L277.3 280.22 L277.8 280.14 L278.3 280.05 L278.8 279.95 L279.3 279.83 L279.8 279.68 L280.3 279.51 L280.8 279.31 L281.3 279.07 L281.8 278.8 L282.3 278.47 L282.8 278.1 L283.3 277.66 L283.8 277.16 L284.3 276.58 L284.8 275.93 L285.3 275.19 L285.8 274.37 L286.3 273.45 L286.8 272.45 L287.3 271.36 L287.8 270.2 L288.3 268.98 L288.8 267.7 L289.3 266.4 L289.8 265.08 L290.3 263.76 L290.8 262.48 L291.3 261.24 L291.8 260.07 L292.3 258.97 L292.8 257.95 L293.3 257.02 L293.8 256.17 L294.3 255.42 L294.8 254.75 L295.3 254.16 L295.8 253.64 L296.3 253.19 L296.8 252.81 L297.3 252.47 L297.8 252.19 L298.3 251.94 L298.8 251.73 L299.3 251.56 L299.8 251.41 L300.3 251.28 L300.8 251.17 L301.3 251.08 L301.8 251.01 L302.3 250.94 L302.8 250.89 L303.3 250.84 L303.8 250.8 L304.3 250.77 L304.8 250.74 L305.3 250.72 L305.8 250.7 L306.3 250.68 L306.8 250.67 L307.3 250.66 L307.8 250.65 L308.3 250.64 L308.8 250.64 L309.3 250.63 L309.8 250.63 L310.3 250.62 L310.8 250.62 L311.3 250.62 L311.8 250.61 L312.3 250.61 L312.8 250.61 L313.3 250.61 L313.8 250.61 L314.3 250.61 L314.8 250.61 L315.3 250.6 L315.8 250.6 L316.3 250.6 L316.8 250.6 L317.3 250.6 L317.8 250.6 L318.3 250.6 L318.8 250.6 L319.3 250.6" fill="none" stroke="#ab0027" stroke-width="1.15"/>
<circle cx="238.3" cy="280.61" r="2.0" fill="#ab0027"/>
<circle cx="249.94" cy="280.61" r="2.0" fill="#ab0027"/>
<circle cx="261.58" cy="280.61" r="2.0" fill="#ab0027"/>
<circle cx="273.22" cy="280.4" r="2.0" fill="#ab0027"/>
<circle cx="284.86" cy="275.69" r="2.0" fill="#ab0027"/>
<circle cx="296.5" cy="252.72" r="2.0" fill="#ab0027"/>
<circle cx="308.14" cy="245.69" r="2.0" fill="#ab0027"/>
<circle cx="319.78" cy="255" r="2.0" fill="#ab0027"/>
<line x1="386.5" y1="203.2" x2="386.5" y2="283.95" stroke="#1a1a1a" stroke-width="1.1"/>
<line x1="385.95" y1="283.4" x2="505.8" y2="283.4" stroke="#1a1a1a" stroke-width="1.1"/>
<line x1="383.5" y1="283.4" x2="386.5" y2="283.4" stroke="#1a1a1a" stroke-width="1.1"/>
<text transform="translate(380.5,285.8) scale(1.180,1)" font-size="6.9" text-anchor="end" font-weight="normal" fill="#111" stroke="#111" stroke-width="0.1">0</text>
<line x1="383.5" y1="257.53" x2="386.5" y2="257.53" stroke="#1a1a1a" stroke-width="1.1"/>
<text transform="translate(380.5,259.93) scale(1.180,1)" font-size="6.9" text-anchor="end" font-weight="normal" fill="#111" stroke="#111" stroke-width="0.1">500</text>
<line x1="383.5" y1="231.67" x2="386.5" y2="231.67" stroke="#1a1a1a" stroke-width="1.1"/>
<text transform="translate(380.5,234.07) scale(1.180,1)" font-size="6.9" text-anchor="end" font-weight="normal" fill="#111" stroke="#111" stroke-width="0.1">1000</text>
<line x1="383.5" y1="205.8" x2="386.5" y2="205.8" stroke="#1a1a1a" stroke-width="1.1"/>
<text transform="translate(380.5,208.2) scale(1.180,1)" font-size="6.9" text-anchor="end" font-weight="normal" fill="#111" stroke="#111" stroke-width="0.1">1500</text>
<line x1="386.5" y1="283.4" x2="386.5" y2="286.2" stroke="#1a1a1a" stroke-width="1.1"/>
<text transform="translate(388.7,292.9) rotate(-45) scale(1.180,1)" font-size="6.9" text-anchor="end" font-weight="normal" fill="#111" stroke="#111" stroke-width="0.1">0.000001</text>
<line x1="409.66" y1="283.4" x2="409.66" y2="286.2" stroke="#1a1a1a" stroke-width="1.1"/>
<text transform="translate(411.86,292.9) rotate(-45) scale(1.180,1)" font-size="6.9" text-anchor="end" font-weight="normal" fill="#111" stroke="#111" stroke-width="0.1">0.0001</text>
<line x1="432.82" y1="283.4" x2="432.82" y2="286.2" stroke="#1a1a1a" stroke-width="1.1"/>
<text transform="translate(435.02,292.9) rotate(-45) scale(1.180,1)" font-size="6.9" text-anchor="end" font-weight="normal" fill="#111" stroke="#111" stroke-width="0.1">0.01</text>
<line x1="455.98" y1="283.4" x2="455.98" y2="286.2" stroke="#1a1a1a" stroke-width="1.1"/>
<text transform="translate(458.18,292.9) rotate(-45) scale(1.180,1)" font-size="6.9" text-anchor="end" font-weight="normal" fill="#111" stroke="#111" stroke-width="0.1">1</text>
<line x1="479.14" y1="283.4" x2="479.14" y2="286.2" stroke="#1a1a1a" stroke-width="1.1"/>
<text transform="translate(481.34,292.9) rotate(-45) scale(1.180,1)" font-size="6.9" text-anchor="end" font-weight="normal" fill="#111" stroke="#111" stroke-width="0.1">100</text>
<line x1="502.3" y1="283.4" x2="502.3" y2="286.2" stroke="#1a1a1a" stroke-width="1.1"/>
<text transform="translate(504.5,292.9) rotate(-45) scale(1.180,1)" font-size="6.9" text-anchor="end" font-weight="normal" fill="#111" stroke="#111" stroke-width="0.1">10000</text>
<text transform="translate(445.9,328.9) scale(0.623,1)" font-size="9.9" text-anchor="middle" font-weight="bold" fill="#222">Concentration (nM)</text>
<text transform="translate(425.6,201.1) scale(0.932,1)" font-size="7.7" text-anchor="start" font-weight="normal" fill="#111" stroke="#111" stroke-width="0.15">CARNAVAL</text>
<text transform="translate(356.3,243.6) rotate(-90) scale(0.679,1)" font-size="9.6" text-anchor="middle" font-weight="bold" fill="#222">gMFI</text>
<path d="M406.4 280.71 L418.04 280.71 L429.68 280.71 L441.32 280.71 L452.96 280.71 L464.6 280.71 L476.24 280.71 L487.88 280.71" fill="none" stroke="#c94662" stroke-width="1.7"/>
<rect x="404.6" y="278.81" width="3.6" height="3.6" fill="#213f86"/>
<rect x="416.24" y="278.81" width="3.6" height="3.6" fill="#213f86"/>
<rect x="427.88" y="278.81" width="3.6" height="3.6" fill="#213f86"/>
<rect x="439.52" y="278.81" width="3.6" height="3.6" fill="#213f86"/>
<rect x="451.16" y="278.81" width="3.6" height="3.6" fill="#213f86"/>
<rect x="462.8" y="278.81" width="3.6" height="3.6" fill="#213f86"/>
<rect x="474.44" y="278.81" width="3.6" height="3.6" fill="#213f86"/>
<rect x="486.08" y="278.81" width="3.6" height="3.6" fill="#213f86"/>
<circle cx="406.4" cy="280.71" r="2.0" fill="#ab0027"/>
<circle cx="418.04" cy="280.71" r="2.0" fill="#ab0027"/>
<circle cx="429.68" cy="280.71" r="2.0" fill="#ab0027"/>
<circle cx="441.32" cy="280.71" r="2.0" fill="#ab0027"/>
<circle cx="452.96" cy="280.71" r="2.0" fill="#ab0027"/>
<circle cx="464.6" cy="280.71" r="2.0" fill="#ab0027"/>
<circle cx="476.24" cy="280.71" r="2.0" fill="#ab0027"/>
<circle cx="487.88" cy="280.71" r="2.0" fill="#ab0027"/>
<line x1="49.5" y1="352.2" x2="49.5" y2="432.95" stroke="#1a1a1a" stroke-width="1.1"/>
<line x1="48.95" y1="432.4" x2="168.8" y2="432.4" stroke="#1a1a1a" stroke-width="1.1"/>
<line x1="46.5" y1="432.4" x2="49.5" y2="432.4" stroke="#1a1a1a" stroke-width="1.1"/>
<text transform="translate(43.5,434.8) scale(1.180,1)" font-size="6.9" text-anchor="end" font-weight="normal" fill="#111" stroke="#111" stroke-width="0.1">0</text>
<line x1="46.5" y1="406.53" x2="49.5" y2="406.53" stroke="#1a1a1a" stroke-width="1.1"/>
<text transform="translate(43.5,408.93) scale(1.180,1)" font-size="6.9" text-anchor="end" font-weight="normal" fill="#111" stroke="#111" stroke-width="0.1">500</text>
<line x1="46.5" y1="380.67" x2="49.5" y2="380.67" stroke="#1a1a1a" stroke-width="1.1"/>
<text transform="translate(43.5,383.07) scale(1.180,1)" font-size="6.9" text-anchor="end" font-weight="normal" fill="#111" stroke="#111" stroke-width="0.1">1000</text>
<line x1="46.5" y1="354.8" x2="49.5" y2="354.8" stroke="#1a1a1a" stroke-width="1.1"/>
<text transform="translate(43.5,357.2) scale(1.180,1)" font-size="6.9" text-anchor="end" font-weight="normal" fill="#111" stroke="#111" stroke-width="0.1">1500</text>
<line x1="49.5" y1="432.4" x2="49.5" y2="435.2" stroke="#1a1a1a" stroke-width="1.1"/>
<text transform="translate(51.7,441.9) rotate(-45) scale(1.180,1)" font-size="6.9" text-anchor="end" font-weight="normal" fill="#111" stroke="#111" stroke-width="0.1">0.000001</text>
<line x1="72.66" y1="432.4" x2="72.66" y2="435.2" stroke="#1a1a1a" stroke-width="1.1"/>
<text transform="translate(74.86,441.9) rotate(-45) scale(1.180,1)" font-size="6.9" text-anchor="end" font-weight="normal" fill="#111" stroke="#111" stroke-width="0.1">0.0001</text>
<line x1="95.82" y1="432.4" x2="95.82" y2="435.2" stroke="#1a1a1a" stroke-width="1.1"/>
<text transform="translate(98.02,441.9) rotate(-45) scale(1.180,1)" font-size="6.9" text-anchor="end" font-weight="normal" fill="#111" stroke="#111" stroke-width="0.1">0.01</text>
<line x1="118.98" y1="432.4" x2="118.98" y2="435.2" stroke="#1a1a1a" stroke-width="1.1"/>
<text transform="translate(121.18,441.9) rotate(-45) scale(1.180,1)" font-size="6.9" text-anchor="end" font-weight="normal" fill="#111" stroke="#111" stroke-width="0.1">1</text>
<line x1="142.14" y1="432.4" x2="142.14" y2="435.2" stroke="#1a1a1a" stroke-width="1.1"/>
<text transform="translate(144.34,441.9) rotate(-45) scale(1.180,1)" font-size="6.9" text-anchor="end" font-weight="normal" fill="#111" stroke="#111" stroke-width="0.1">100</text>
<line x1="165.3" y1="432.4" x2="165.3" y2="435.2" stroke="#1a1a1a" stroke-width="1.1"/>
<text transform="translate(167.5,441.9) rotate(-45) scale(1.180,1)" font-size="6.9" text-anchor="end" font-weight="normal" fill="#111" stroke="#111" stroke-width="0.1">10000</text>
<text transform="translate(108.9,477.9) scale(0.623,1)" font-size="9.9" text-anchor="middle" font-weight="bold" fill="#222">Concentration (nM)</text>
<text transform="translate(90.5,350.1) scale(0.962,1)" font-size="7.7" text-anchor="start" font-weight="normal" fill="#111" stroke="#111" stroke-width="0.15">OCI-AML3</text>
<text transform="translate(19.4,392.6) rotate(-90) scale(0.679,1)" font-size="9.6" text-anchor="middle" font-weight="bold" fill="#222">gMFI</text>
<path d="M67.3 426.87L69.4 430.47L71.5 426.87Z" fill="#5b2b84"/>
<path d="M78.94 426.87L81.04 430.47L83.14 426.87Z" fill="#5b2b84"/>
<path d="M90.58 426.87L92.68 430.47L94.78 426.87Z" fill="#5b2b84"/>
<path d="M102.22 426.87L104.32 430.47L106.42 426.87Z" fill="#5b2b84"/>
<path d="M113.86 426.87L115.96 430.47L118.06 426.87Z" fill="#5b2b84"/>
<path d="M125.5 426.87L127.6 430.47L129.7 426.87Z" fill="#5b2b84"/>
<path d="M137.14 426.87L139.24 430.47L141.34 426.87Z" fill="#5b2b84"/>
<path d="M148.78 426.87L150.88 430.47L152.98 426.87Z" fill="#5b2b84"/>
<path d="M69.4 429.5 L81.04 429.5 L92.68 429.5 L104.32 429.5 L115.96 429.5 L127.6 429.5 L139.24 429.5 L150.88 429.5" fill="none" stroke="#6cb34a" stroke-width="1.15"/>
<path d="M67.3 431.2L69.4 427.6L71.5 431.2Z" fill="#6cb34a"/>
<path d="M78.94 431.2L81.04 427.6L83.14 431.2Z" fill="#6cb34a"/>
<path d="M90.58 431.2L92.68 427.6L94.78 431.2Z" fill="#6cb34a"/>
<path d="M102.22 431.2L104.32 427.6L106.42 431.2Z" fill="#6cb34a"/>
<path d="M113.86 431.2L115.96 427.6L118.06 431.2Z" fill="#6cb34a"/>
<path d="M125.5 431.2L127.6 427.6L129.7 431.2Z" fill="#6cb34a"/>
<path d="M137.14 431.2L139.24 427.6L141.34 431.2Z" fill="#6cb34a"/>
<path d="M148.78 431.2L150.88 427.6L152.98 431.2Z" fill="#6cb34a"/>
<path d="M69.4 429.55 L69.9 429.55 L70.4 429.55 L70.9 429.55 L71.4 429.55 L71.9 429.55 L72.4 429.55 L72.9 429.55 L73.4 429.55 L73.9 429.55 L74.4 429.55 L74.9 429.55 L75.4 429.55 L75.9 429.55 L76.4 429.55 L76.9 429.55 L77.4 429.55 L77.9 429.55 L78.4 429.55 L78.9 429.55 L79.4 429.55 L79.9 429.55 L80.4 429.55 L80.9 429.55 L81.4 429.55 L81.9 429.55 L82.4 429.55 L82.9 429.55 L83.4 429.55 L83.9 429.55 L84.4 429.55 L84.9 429.55 L85.4 429.55 L85.9 429.55 L86.4 429.55 L86.9 429.55 L87.4 429.55 L87.9 429.55 L88.4 429.55 L88.9 429.55 L89.4 429.55 L89.9 429.55 L90.4 429.55 L90.9 429.55 L91.4 429.55 L91.9 429.55 L92.4 429.55 L92.9 429.55 L93.4 429.55 L93.9 429.55 L94.4 429.55 L94.9 429.55 L95.4 429.55 L95.9 429.55 L96.4 429.55 L96.9 429.55 L97.4 429.55 L97.9 429.55 L98.4 429.55 L98.9 429.55 L99.4 429.55 L99.9 429.55 L100.4 429.55 L100.9 429.55 L101.4 429.55 L101.9 429.55 L102.4 429.55 L102.9 429.55 L103.4 429.55 L103.9 429.55 L104.4 429.55 L104.9 429.55 L105.4 429.55 L105.9 429.55 L106.4 429.55 L106.9 429.55 L107.4 429.55 L107.9 429.55 L108.4 429.55 L108.9 429.55 L109.4 429.55 L109.9 429.55 L110.4 429.55 L110.9 429.55 L111.4 429.54 L111.9 429.52 L112.4 429.5 L112.9 429.45 L113.4 429.37 L113.9 429.23 L114.4 428.97 L114.9 428.54 L115.4 427.83 L115.9 426.75 L116.4 425.27 L116.9 423.53 L117.4 421.78 L117.9 420.31 L118.4 419.23 L118.9 418.52 L119.4 418.08 L119.9 417.83 L120.4 417.68 L120.9 417.6 L121.4 417.56 L121.9 417.53 L122.4 417.52 L122.9 417.51 L123.4 417.51 L123.9 417.5 L124.4 417.5 L124.9 417.5 L125.4 417.5 L125.9 417.5 L126.4 417.5 L126.9 417.5 L127.4 417.5 L127.9 417.5 L128.4 417.5 L128.9 417.5 L129.4 417.5 L129.9 417.5 L130.4 417.5 L130.9 417.5 L131.4 417.5 L131.9 417.5 L132.4 417.5 L132.9 417.5 L133.4 417.5 L133.9 417.5 L134.4 417.5 L134.9 417.5 L135.4 417.5 L135.9 417.5 L136.4 417.5 L136.9 417.5 L137.4 417.5 L137.9 417.5 L138.4 417.5 L138.9 417.5 L139.4 417.5 L139.9 417.5 L140.4 417.5 L140.9 417.5 L141.4 417.5 L141.9 417.5 L142.4 417.5 L142.9 417.5 L143.4 417.5 L143.9 417.5 L144.4 417.5 L144.9 417.5 L145.4 417.5 L145.9 417.5 L146.4 417.5 L146.9 417.5 L147.4 417.5 L147.9 417.5 L148.4 417.5 L148.9 417.5 L149.4 417.5 L149.9 417.5 L150.4 417.5" fill="none" stroke="#213f86" stroke-width="1.15"/>
<rect x="67.6" y="427.6" width="3.6" height="3.6" fill="#213f86"/>
<rect x="79.24" y="427.6" width="3.6" height="3.6" fill="#213f86"/>
<rect x="90.88" y="427.6" width="3.6" height="3.6" fill="#213f86"/>
<rect x="102.52" y="427.6" width="3.6" height="3.6" fill="#213f86"/>
<rect x="114.16" y="426.98" width="3.6" height="3.6" fill="#213f86"/>
<rect x="125.8" y="417.87" width="3.6" height="3.6" fill="#213f86"/>
<rect x="137.44" y="416.74" width="3.6" height="3.6" fill="#213f86"/>
<rect x="149.08" y="420.77" width="3.6" height="3.6" fill="#213f86"/>
<path d="M69.4 429.24 L69.9 429.24 L70.4 429.24 L70.9 429.24 L71.4 429.24 L71.9 429.24 L72.4 429.24 L72.9 429.24 L73.4 429.24 L73.9 429.24 L74.4 429.24 L74.9 429.24 L75.4 429.24 L75.9 429.24 L76.4 429.24 L76.9 429.24 L77.4 429.24 L77.9 429.24 L78.4 429.24 L78.9 429.24 L79.4 429.24 L79.9 429.24 L80.4 429.24 L80.9 429.24 L81.4 429.24 L81.9 429.24 L82.4 429.24 L82.9 429.24 L83.4 429.24 L83.9 429.24 L84.4 429.24 L84.9 429.24 L85.4 429.24 L85.9 429.24 L86.4 429.24 L86.9 429.24 L87.4 429.24 L87.9 429.24 L88.4 429.24 L88.9 429.24 L89.4 429.24 L89.9 429.24 L90.4 429.24 L90.9 429.24 L91.4 429.24 L91.9 429.24 L92.4 429.24 L92.9 429.24 L93.4 429.24 L93.9 429.24 L94.4 429.24 L94.9 429.24 L95.4 429.24 L95.9 429.24 L96.4 429.24 L96.9 429.24 L97.4 429.24 L97.9 429.24 L98.4 429.24 L98.9 429.24 L99.4 429.24 L99.9 429.24 L100.4 429.24 L100.9 429.24 L101.4 429.24 L101.9 429.24 L102.4 429.24 L102.9 429.24 L103.4 429.24 L103.9 429.24 L104.4 429.24 L104.9 429.24 L105.4 429.24 L105.9 429.24 L106.4 429.24 L106.9 429.24 L107.4 429.24 L107.9 429.24 L108.4 429.24 L108.9 429.24 L109.4 429.24 L109.9 429.24 L110.4 429.24 L110.9 429.23 L111.4 429.22 L111.9 429.21 L112.4 429.18 L112.9 429.14 L113.4 429.08 L113.9 428.97 L114.4 428.8 L114.9 428.54 L115.4 428.14 L115.9 427.56 L116.4 426.77 L116.9 425.78 L117.4 424.67 L117.9 423.55 L118.4 422.56 L118.9 421.77 L119.4 421.19 L119.9 420.79 L120.4 420.53 L120.9 420.36 L121.4 420.26 L121.9 420.19 L122.4 420.15 L122.9 420.13 L123.4 420.11 L123.9 420.1 L124.4 420.1 L124.9 420.09 L125.4 420.09 L125.9 420.09 L126.4 420.09 L126.9 420.09 L127.4 420.09 L127.9 420.09 L128.4 420.09 L128.9 420.09 L129.4 420.09 L129.9 420.09 L130.4 420.09 L130.9 420.09 L131.4 420.09 L131.9 420.09 L132.4 420.09 L132.9 420.09 L133.4 420.09 L133.9 420.09 L134.4 420.09 L134.9 420.09 L135.4 420.09 L135.9 420.09 L136.4 420.09 L136.9 420.09 L137.4 420.09 L137.9 420.09 L138.4 420.09 L138.9 420.09 L139.4 420.09 L139.9 420.09 L140.4 420.09 L140.9 420.09 L141.4 420.09 L141.9 420.09 L142.4 420.09 L142.9 420.09 L143.4 420.09 L143.9 420.09 L144.4 420.09 L144.9 420.09 L145.4 420.09 L145.9 420.09 L146.4 420.09 L146.9 420.09 L147.4 420.09 L147.9 420.09 L148.4 420.09 L148.9 420.09 L149.4 420.09 L149.9 420.09 L150.4 420.09" fill="none" stroke="#ab0027" stroke-width="1.15"/>
<circle cx="69.4" cy="429.24" r="2.0" fill="#ab0027"/>
<circle cx="81.04" cy="429.24" r="2.0" fill="#ab0027"/>
<circle cx="92.68" cy="429.24" r="2.0" fill="#ab0027"/>
<circle cx="104.32" cy="429.24" r="2.0" fill="#ab0027"/>
<circle cx="115.96" cy="426.35" r="2.0" fill="#ab0027"/>
<circle cx="127.6" cy="416.26" r="2.0" fill="#ab0027"/>
<circle cx="139.24" cy="416.26" r="2.0" fill="#ab0027"/>
<circle cx="150.88" cy="420.86" r="2.0" fill="#ab0027"/>
<line x1="218.4" y1="352.2" x2="218.4" y2="432.95" stroke="#1a1a1a" stroke-width="1.1"/>
<line x1="217.85" y1="432.4" x2="337.7" y2="432.4" stroke="#1a1a1a" stroke-width="1.1"/>
<line x1="215.4" y1="432.4" x2="218.4" y2="432.4" stroke="#1a1a1a" stroke-width="1.1"/>
<text transform="translate(212.4,434.8) scale(1.180,1)" font-size="6.9" text-anchor="end" font-weight="normal" fill="#111" stroke="#111" stroke-width="0.1">0</text>
<line x1="215.4" y1="406.53" x2="218.4" y2="406.53" stroke="#1a1a1a" stroke-width="1.1"/>
<text transform="translate(212.4,408.93) scale(1.180,1)" font-size="6.9" text-anchor="end" font-weight="normal" fill="#111" stroke="#111" stroke-width="0.1">500</text>
<line x1="215.4" y1="380.67" x2="218.4" y2="380.67" stroke="#1a1a1a" stroke-width="1.1"/>
<text transform="translate(212.4,383.07) scale(1.180,1)" font-size="6.9" text-anchor="end" font-weight="normal" fill="#111" stroke="#111" stroke-width="0.1">1000</text>
<line x1="215.4" y1="354.8" x2="218.4" y2="354.8" stroke="#1a1a1a" stroke-width="1.1"/>
<text transform="translate(212.4,357.2) scale(1.180,1)" font-size="6.9" text-anchor="end" font-weight="normal" fill="#111" stroke="#111" stroke-width="0.1">1500</text>
<line x1="218.4" y1="432.4" x2="218.4" y2="435.2" stroke="#1a1a1a" stroke-width="1.1"/>
<text transform="translate(220.6,441.9) rotate(-45) scale(1.180,1)" font-size="6.9" text-anchor="end" font-weight="normal" fill="#111" stroke="#111" stroke-width="0.1">0.000001</text>
<line x1="241.56" y1="432.4" x2="241.56" y2="435.2" stroke="#1a1a1a" stroke-width="1.1"/>
<text transform="translate(243.76,441.9) rotate(-45) scale(1.180,1)" font-size="6.9" text-anchor="end" font-weight="normal" fill="#111" stroke="#111" stroke-width="0.1">0.0001</text>
<line x1="264.72" y1="432.4" x2="264.72" y2="435.2" stroke="#1a1a1a" stroke-width="1.1"/>
<text transform="translate(266.92,441.9) rotate(-45) scale(1.180,1)" font-size="6.9" text-anchor="end" font-weight="normal" fill="#111" stroke="#111" stroke-width="0.1">0.01</text>
<line x1="287.88" y1="432.4" x2="287.88" y2="435.2" stroke="#1a1a1a" stroke-width="1.1"/>
<text transform="translate(290.08,441.9) rotate(-45) scale(1.180,1)" font-size="6.9" text-anchor="end" font-weight="normal" fill="#111" stroke="#111" stroke-width="0.1">1</text>
<line x1="311.04" y1="432.4" x2="311.04" y2="435.2" stroke="#1a1a1a" stroke-width="1.1"/>
<text transform="translate(313.24,441.9) rotate(-45) scale(1.180,1)" font-size="6.9" text-anchor="end" font-weight="normal" fill="#111" stroke="#111" stroke-width="0.1">100</text>
<line x1="334.2" y1="432.4" x2="334.2" y2="435.2" stroke="#1a1a1a" stroke-width="1.1"/>
<text transform="translate(336.4,441.9) rotate(-45) scale(1.180,1)" font-size="6.9" text-anchor="end" font-weight="normal" fill="#111" stroke="#111" stroke-width="0.1">10000</text>
<text transform="translate(277.8,477.9) scale(0.623,1)" font-size="9.9" text-anchor="middle" font-weight="bold" fill="#222">Concentration (nM)</text>
<text transform="translate(267.7,350.1) scale(0.896,1)" font-size="7.7" text-anchor="start" font-weight="normal" fill="#111" stroke="#111" stroke-width="0.15">KG-1</text>
<text transform="translate(187.9,392.6) rotate(-90) scale(0.679,1)" font-size="9.6" text-anchor="middle" font-weight="bold" fill="#222">gMFI</text>
<path d="M236.2 426.66L238.3 430.26L240.4 426.66Z" fill="#5b2b84"/>
<path d="M247.84 426.66L249.94 430.26L252.04 426.66Z" fill="#5b2b84"/>
<path d="M259.48 426.66L261.58 430.26L263.68 426.66Z" fill="#5b2b84"/>
<path d="M271.12 426.66L273.22 430.26L275.32 426.66Z" fill="#5b2b84"/>
<path d="M282.76 426.66L284.86 430.26L286.96 426.66Z" fill="#5b2b84"/>
<path d="M294.4 426.66L296.5 430.26L298.6 426.66Z" fill="#5b2b84"/>
<path d="M306.04 426.66L308.14 430.26L310.24 426.66Z" fill="#5b2b84"/>
<path d="M317.68 426.66L319.78 430.26L321.88 426.66Z" fill="#5b2b84"/>
<path d="M238.3 429.3 L249.94 429.3 L261.58 429.3 L273.22 429.3 L284.86 429.3 L296.5 429.3 L308.14 429.3 L319.78 429.3" fill="none" stroke="#6cb34a" stroke-width="1.15"/>
<path d="M236.2 431L238.3 427.4L240.4 431Z" fill="#6cb34a"/>
<path d="M247.84 431L249.94 427.4L252.04 431Z" fill="#6cb34a"/>
<path d="M259.48 431L261.58 427.4L263.68 431Z" fill="#6cb34a"/>
<path d="M271.12 431L273.22 427.4L275.32 431Z" fill="#6cb34a"/>
<path d="M282.76 431L284.86 427.4L286.96 431Z" fill="#6cb34a"/>
<path d="M294.4 431L296.5 427.4L298.6 431Z" fill="#6cb34a"/>
<path d="M306.04 431L308.14 427.4L310.24 431Z" fill="#6cb34a"/>
<path d="M317.68 431L319.78 427.4L321.88 431Z" fill="#6cb34a"/>
<path d="M238.3 429.24 L238.8 429.24 L239.3 429.24 L239.8 429.24 L240.3 429.24 L240.8 429.24 L241.3 429.24 L241.8 429.24 L242.3 429.24 L242.8 429.24 L243.3 429.24 L243.8 429.24 L244.3 429.24 L244.8 429.24 L245.3 429.24 L245.8 429.24 L246.3 429.24 L246.8 429.24 L247.3 429.24 L247.8 429.24 L248.3 429.24 L248.8 429.24 L249.3 429.24 L249.8 429.24 L250.3 429.24 L250.8 429.24 L251.3 429.24 L251.8 429.24 L252.3 429.24 L252.8 429.24 L253.3 429.24 L253.8 429.24 L254.3 429.24 L254.8 429.24 L255.3 429.24 L255.8 429.24 L256.3 429.24 L256.8 429.24 L257.3 429.24 L257.8 429.24 L258.3 429.24 L258.8 429.24 L259.3 429.24 L259.8 429.24 L260.3 429.24 L260.8 429.24 L261.3 429.24 L261.8 429.24 L262.3 429.24 L262.8 429.24 L263.3 429.24 L263.8 429.24 L264.3 429.24 L264.8 429.24 L265.3 429.24 L265.8 429.24 L266.3 429.24 L266.8 429.24 L267.3 429.24 L267.8 429.24 L268.3 429.24 L268.8 429.24 L269.3 429.24 L269.8 429.24 L270.3 429.24 L270.8 429.24 L271.3 429.24 L271.8 429.24 L272.3 429.24 L272.8 429.24 L273.3 429.24 L273.8 429.24 L274.3 429.24 L274.8 429.24 L275.3 429.24 L275.8 429.24 L276.3 429.24 L276.8 429.24 L277.3 429.24 L277.8 429.24 L278.3 429.24 L278.8 429.24 L279.3 429.24 L279.8 429.24 L280.3 429.24 L280.8 429.24 L281.3 429.24 L281.8 429.24 L282.3 429.24 L282.8 429.24 L283.3 429.24 L283.8 429.24 L284.3 429.24 L284.8 429.24 L285.3 429.24 L285.8 429.24 L286.3 429.24 L286.8 429.24 L287.3 429.24 L287.8 429.24 L288.3 429.24 L288.8 429.23 L289.3 429.22 L289.8 429.21 L290.3 429.18 L290.8 429.15 L291.3 429.08 L291.8 428.98 L292.3 428.81 L292.8 428.54 L293.3 428.1 L293.8 427.38 L294.3 426.25 L294.8 424.51 L295.3 421.89 L295.8 418.18 L296.3 413.27 L296.8 407.36 L297.3 401.01 L297.8 394.96 L298.3 389.83 L298.8 385.87 L299.3 383.06 L299.8 381.16 L300.3 379.92 L300.8 379.14 L301.3 378.65 L301.8 378.35 L302.3 378.16 L302.8 378.05 L303.3 377.98 L303.8 377.94 L304.3 377.91 L304.8 377.9 L305.3 377.89 L305.8 377.88 L306.3 377.88 L306.8 377.88 L307.3 377.88 L307.8 377.87 L308.3 377.87 L308.8 377.87 L309.3 377.87 L309.8 377.87 L310.3 377.87 L310.8 377.87 L311.3 377.87 L311.8 377.87 L312.3 377.87 L312.8 377.87 L313.3 377.87 L313.8 377.87 L314.3 377.87 L314.8 377.87 L315.3 377.87 L315.8 377.87 L316.3 377.87 L316.8 377.87 L317.3 377.87 L317.8 377.87 L318.3 377.87 L318.8 377.87 L319.3 377.87" fill="none" stroke="#213f86" stroke-width="1.15"/>
<rect x="236.5" y="427.5" width="3.6" height="3.6" fill="#213f86"/>
<rect x="248.14" y="427.5" width="3.6" height="3.6" fill="#213f86"/>
<rect x="259.78" y="427.5" width="3.6" height="3.6" fill="#213f86"/>
<rect x="271.42" y="427.5" width="3.6" height="3.6" fill="#213f86"/>
<rect x="283.06" y="425.37" width="3.6" height="3.6" fill="#213f86"/>
<rect x="294.7" y="404.63" width="3.6" height="3.6" fill="#213f86"/>
<rect x="306.34" y="372.87" width="3.6" height="3.6" fill="#213f86"/>
<rect x="317.98" y="379.33" width="3.6" height="3.6" fill="#213f86"/>
<path d="M238.3 428.78 L238.8 428.78 L239.3 428.78 L239.8 428.78 L240.3 428.78 L240.8 428.78 L241.3 428.78 L241.8 428.78 L242.3 428.78 L242.8 428.78 L243.3 428.78 L243.8 428.78 L244.3 428.78 L244.8 428.78 L245.3 428.78 L245.8 428.78 L246.3 428.78 L246.8 428.78 L247.3 428.78 L247.8 428.78 L248.3 428.78 L248.8 428.78 L249.3 428.78 L249.8 428.78 L250.3 428.78 L250.8 428.78 L251.3 428.78 L251.8 428.78 L252.3 428.78 L252.8 428.78 L253.3 428.78 L253.8 428.78 L254.3 428.78 L254.8 428.78 L255.3 428.78 L255.8 428.78 L256.3 428.78 L256.8 428.78 L257.3 428.78 L257.8 428.78 L258.3 428.78 L258.8 428.78 L259.3 428.78 L259.8 428.78 L260.3 428.78 L260.8 428.78 L261.3 428.78 L261.8 428.78 L262.3 428.78 L262.8 428.77 L263.3 428.77 L263.8 428.77 L264.3 428.77 L264.8 428.77 L265.3 428.77 L265.8 428.77 L266.3 428.77 L266.8 428.76 L267.3 428.76 L267.8 428.76 L268.3 428.75 L268.8 428.75 L269.3 428.75 L269.8 428.74 L270.3 428.73 L270.8 428.72 L271.3 428.71 L271.8 428.7 L272.3 428.69 L272.8 428.67 L273.3 428.65 L273.8 428.62 L274.3 428.6 L274.8 428.56 L275.3 428.52 L275.8 428.48 L276.3 428.42 L276.8 428.36 L277.3 428.28 L277.8 428.19 L278.3 428.08 L278.8 427.95 L279.3 427.81 L279.8 427.63 L280.3 427.42 L280.8 427.18 L281.3 426.89 L281.8 426.56 L282.3 426.17 L282.8 425.71 L283.3 425.17 L283.8 424.55 L284.3 423.84 L284.8 423.01 L285.3 422.06 L285.8 420.98 L286.3 419.75 L286.8 418.36 L287.3 416.8 L287.8 415.07 L288.3 413.17 L288.8 411.1 L289.3 408.87 L289.8 406.5 L290.3 404.01 L290.8 401.42 L291.3 398.77 L291.8 396.1 L292.3 393.45 L292.8 390.85 L293.3 388.33 L293.8 385.93 L294.3 383.67 L294.8 381.57 L295.3 379.63 L295.8 377.87 L296.3 376.28 L296.8 374.86 L297.3 373.6 L297.8 372.48 L298.3 371.51 L298.8 370.66 L299.3 369.92 L299.8 369.28 L300.3 368.73 L300.8 368.26 L301.3 367.86 L301.8 367.51 L302.3 367.21 L302.8 366.96 L303.3 366.75 L303.8 366.57 L304.3 366.41 L304.8 366.28 L305.3 366.17 L305.8 366.08 L306.3 366 L306.8 365.93 L307.3 365.87 L307.8 365.82 L308.3 365.78 L308.8 365.75 L309.3 365.72 L309.8 365.69 L310.3 365.67 L310.8 365.66 L311.3 365.64 L311.8 365.63 L312.3 365.62 L312.8 365.61 L313.3 365.6 L313.8 365.6 L314.3 365.59 L314.8 365.59 L315.3 365.58 L315.8 365.58 L316.3 365.58 L316.8 365.57 L317.3 365.57 L317.8 365.57 L318.3 365.57 L318.8 365.57 L319.3 365.57" fill="none" stroke="#ab0027" stroke-width="1.15"/>
<circle cx="238.3" cy="429.09" r="2.0" fill="#ab0027"/>
<circle cx="249.94" cy="429.09" r="2.0" fill="#ab0027"/>
<circle cx="261.58" cy="429.09" r="2.0" fill="#ab0027"/>
<circle cx="273.22" cy="428.57" r="2.0" fill="#ab0027"/>
<circle cx="284.86" cy="422.73" r="2.0" fill="#ab0027"/>
<circle cx="296.5" cy="375.44" r="2.0" fill="#ab0027"/>
<circle cx="308.14" cy="361.16" r="2.0" fill="#ab0027"/>
<circle cx="319.78" cy="370.73" r="2.0" fill="#ab0027"/>
<line x1="386.5" y1="352.2" x2="386.5" y2="432.95" stroke="#1a1a1a" stroke-width="1.1"/>
<line x1="385.95" y1="432.4" x2="505.8" y2="432.4" stroke="#1a1a1a" stroke-width="1.1"/>
<line x1="383.5" y1="432.4" x2="386.5" y2="432.4" stroke="#1a1a1a" stroke-width="1.1"/>
<text transform="translate(380.5,434.8) scale(1.180,1)" font-size="6.9" text-anchor="end" font-weight="normal" fill="#111" stroke="#111" stroke-width="0.1">0</text>
<line x1="383.5" y1="406.53" x2="386.5" y2="406.53" stroke="#1a1a1a" stroke-width="1.1"/>
<text transform="translate(380.5,408.93) scale(1.180,1)" font-size="6.9" text-anchor="end" font-weight="normal" fill="#111" stroke="#111" stroke-width="0.1">500</text>
<line x1="383.5" y1="380.67" x2="386.5" y2="380.67" stroke="#1a1a1a" stroke-width="1.1"/>
<text transform="translate(380.5,383.07) scale(1.180,1)" font-size="6.9" text-anchor="end" font-weight="normal" fill="#111" stroke="#111" stroke-width="0.1">1000</text>
<line x1="383.5" y1="354.8" x2="386.5" y2="354.8" stroke="#1a1a1a" stroke-width="1.1"/>
<text transform="translate(380.5,357.2) scale(1.180,1)" font-size="6.9" text-anchor="end" font-weight="normal" fill="#111" stroke="#111" stroke-width="0.1">1500</text>
<line x1="386.5" y1="432.4" x2="386.5" y2="435.2" stroke="#1a1a1a" stroke-width="1.1"/>
<text transform="translate(388.7,441.9) rotate(-45) scale(1.180,1)" font-size="6.9" text-anchor="end" font-weight="normal" fill="#111" stroke="#111" stroke-width="0.1">0.000001</text>
<line x1="409.66" y1="432.4" x2="409.66" y2="435.2" stroke="#1a1a1a" stroke-width="1.1"/>
<text transform="translate(411.86,441.9) rotate(-45) scale(1.180,1)" font-size="6.9" text-anchor="end" font-weight="normal" fill="#111" stroke="#111" stroke-width="0.1">0.0001</text>
<line x1="432.82" y1="432.4" x2="432.82" y2="435.2" stroke="#1a1a1a" stroke-width="1.1"/>
<text transform="translate(435.02,441.9) rotate(-45) scale(1.180,1)" font-size="6.9" text-anchor="end" font-weight="normal" fill="#111" stroke="#111" stroke-width="0.1">0.01</text>
<line x1="455.98" y1="432.4" x2="455.98" y2="435.2" stroke="#1a1a1a" stroke-width="1.1"/>
<text transform="translate(458.18,441.9) rotate(-45) scale(1.180,1)" font-size="6.9" text-anchor="end" font-weight="normal" fill="#111" stroke="#111" stroke-width="0.1">1</text>
<line x1="479.14" y1="432.4" x2="479.14" y2="435.2" stroke="#1a1a1a" stroke-width="1.1"/>
<text transform="translate(481.34,441.9) rotate(-45) scale(1.180,1)" font-size="6.9" text-anchor="end" font-weight="normal" fill="#111" stroke="#111" stroke-width="0.1">100</text>
<line x1="502.3" y1="432.4" x2="502.3" y2="435.2" stroke="#1a1a1a" stroke-width="1.1"/>
<text transform="translate(504.5,441.9) rotate(-45) scale(1.180,1)" font-size="6.9" text-anchor="end" font-weight="normal" fill="#111" stroke="#111" stroke-width="0.1">10000</text>
<text transform="translate(445.9,477.9) scale(0.623,1)" font-size="9.9" text-anchor="middle" font-weight="bold" fill="#222">Concentration (nM)</text>
<text transform="translate(444.6,350.1)" font-size="7.6" text-anchor="middle" font-weight="normal" fill="#111" stroke="#111" stroke-width="0.15">KG-1<tspan font-size="6.6">Δ</tspan>CD33</text>
<text transform="translate(356.3,392.6) rotate(-90) scale(0.679,1)" font-size="9.6" text-anchor="middle" font-weight="bold" fill="#222">gMFI</text>
<path d="M406.4 429.4 L418.04 429.4 L429.68 429.4 L441.32 429.4 L452.96 429.4 L464.6 429.4 L476.24 429.4 L487.88 429.4" fill="none" stroke="#c94662" stroke-width="1.7"/>
<rect x="404.6" y="427.5" width="3.6" height="3.6" fill="#213f86"/>
<rect x="416.24" y="427.5" width="3.6" height="3.6" fill="#213f86"/>
<rect x="427.88" y="427.5" width="3.6" height="3.6" fill="#213f86"/>
<rect x="439.52" y="427.5" width="3.6" height="3.6" fill="#213f86"/>
<rect x="451.16" y="427.5" width="3.6" height="3.6" fill="#213f86"/>
<rect x="462.8" y="427.5" width="3.6" height="3.6" fill="#213f86"/>
<rect x="474.44" y="427.5" width="3.6" height="3.6" fill="#213f86"/>
<rect x="486.08" y="427.5" width="3.6" height="3.6" fill="#213f86"/>
<circle cx="406.4" cy="429.4" r="2.0" fill="#ab0027"/>
<circle cx="418.04" cy="429.4" r="2.0" fill="#ab0027"/>
<circle cx="429.68" cy="429.4" r="2.0" fill="#ab0027"/>
<circle cx="441.32" cy="429.4" r="2.0" fill="#ab0027"/>
<circle cx="452.96" cy="429.4" r="2.0" fill="#ab0027"/>
<circle cx="464.6" cy="429.4" r="2.0" fill="#ab0027"/>
<circle cx="476.24" cy="429.4" r="2.0" fill="#ab0027"/>
<circle cx="487.88" cy="429.4" r="2.0" fill="#ab0027"/>
<line x1="49.5" y1="500.3" x2="49.5" y2="581.05" stroke="#1a1a1a" stroke-width="1.1"/>
<line x1="48.95" y1="580.5" x2="168.8" y2="580.5" stroke="#1a1a1a" stroke-width="1.1"/>
<line x1="46.5" y1="580.5" x2="49.5" y2="580.5" stroke="#1a1a1a" stroke-width="1.1"/>
<text transform="translate(43.5,582.9) scale(1.180,1)" font-size="6.9" text-anchor="end" font-weight="normal" fill="#111" stroke="#111" stroke-width="0.1">0</text>
<line x1="46.5" y1="564.98" x2="49.5" y2="564.98" stroke="#1a1a1a" stroke-width="1.1"/>
<text transform="translate(43.5,567.38) scale(1.180,1)" font-size="6.9" text-anchor="end" font-weight="normal" fill="#111" stroke="#111" stroke-width="0.1">2000</text>
<line x1="46.5" y1="549.46" x2="49.5" y2="549.46" stroke="#1a1a1a" stroke-width="1.1"/>
<text transform="translate(43.5,551.86) scale(1.180,1)" font-size="6.9" text-anchor="end" font-weight="normal" fill="#111" stroke="#111" stroke-width="0.1">4000</text>
<line x1="46.5" y1="533.94" x2="49.5" y2="533.94" stroke="#1a1a1a" stroke-width="1.1"/>
<text transform="translate(43.5,536.34) scale(1.180,1)" font-size="6.9" text-anchor="end" font-weight="normal" fill="#111" stroke="#111" stroke-width="0.1">6000</text>
<line x1="46.5" y1="518.42" x2="49.5" y2="518.42" stroke="#1a1a1a" stroke-width="1.1"/>
<text transform="translate(43.5,520.82) scale(1.180,1)" font-size="6.9" text-anchor="end" font-weight="normal" fill="#111" stroke="#111" stroke-width="0.1">8000</text>
<line x1="46.5" y1="502.9" x2="49.5" y2="502.9" stroke="#1a1a1a" stroke-width="1.1"/>
<text transform="translate(43.5,505.3) scale(1.180,1)" font-size="6.9" text-anchor="end" font-weight="normal" fill="#111" stroke="#111" stroke-width="0.1">10000</text>
<line x1="49.5" y1="580.5" x2="49.5" y2="583.3" stroke="#1a1a1a" stroke-width="1.1"/>
<text transform="translate(51.7,590) rotate(-45) scale(1.180,1)" font-size="6.9" text-anchor="end" font-weight="normal" fill="#111" stroke="#111" stroke-width="0.1">0.000001</text>
<line x1="72.66" y1="580.5" x2="72.66" y2="583.3" stroke="#1a1a1a" stroke-width="1.1"/>
<text transform="translate(74.86,590) rotate(-45) scale(1.180,1)" font-size="6.9" text-anchor="end" font-weight="normal" fill="#111" stroke="#111" stroke-width="0.1">0.0001</text>
<line x1="95.82" y1="580.5" x2="95.82" y2="583.3" stroke="#1a1a1a" stroke-width="1.1"/>
<text transform="translate(98.02,590) rotate(-45) scale(1.180,1)" font-size="6.9" text-anchor="end" font-weight="normal" fill="#111" stroke="#111" stroke-width="0.1">0.01</text>
<line x1="118.98" y1="580.5" x2="118.98" y2="583.3" stroke="#1a1a1a" stroke-width="1.1"/>
<text transform="translate(121.18,590) rotate(-45) scale(1.180,1)" font-size="6.9" text-anchor="end" font-weight="normal" fill="#111" stroke="#111" stroke-width="0.1">1</text>
<line x1="142.14" y1="580.5" x2="142.14" y2="583.3" stroke="#1a1a1a" stroke-width="1.1"/>
<text transform="translate(144.34,590) rotate(-45) scale(1.180,1)" font-size="6.9" text-anchor="end" font-weight="normal" fill="#111" stroke="#111" stroke-width="0.1">100</text>
<line x1="165.3" y1="580.5" x2="165.3" y2="583.3" stroke="#1a1a1a" stroke-width="1.1"/>
<text transform="translate(167.5,590) rotate(-45) scale(1.180,1)" font-size="6.9" text-anchor="end" font-weight="normal" fill="#111" stroke="#111" stroke-width="0.1">10000</text>
<text transform="translate(108.9,626) scale(0.623,1)" font-size="9.9" text-anchor="middle" font-weight="bold" fill="#222">Concentration (nM)</text>
<text transform="translate(71,498.2) scale(0.957,1)" font-size="7.7" text-anchor="start" font-weight="normal" fill="#111" stroke="#111" stroke-width="0.15">HEK 293T Cyno CD33</text>
<text transform="translate(14.9,540.7) rotate(-90) scale(0.679,1)" font-size="9.6" text-anchor="middle" font-weight="bold" fill="#222">gMFI</text>
<path d="M67.3 577.91L69.4 581.51L71.5 577.91Z" fill="#5b2b84"/>
<path d="M78.94 577.91L81.04 581.51L83.14 577.91Z" fill="#5b2b84"/>
<path d="M90.58 577.91L92.68 581.51L94.78 577.91Z" fill="#5b2b84"/>
<path d="M102.22 577.91L104.32 581.51L106.42 577.91Z" fill="#5b2b84"/>
<path d="M113.86 577.91L115.96 581.51L118.06 577.91Z" fill="#5b2b84"/>
<path d="M125.5 577.91L127.6 581.51L129.7 577.91Z" fill="#5b2b84"/>
<path d="M137.14 577.91L139.24 581.51L141.34 577.91Z" fill="#5b2b84"/>
<path d="M148.78 577.91L150.88 581.51L152.98 577.91Z" fill="#5b2b84"/>
<path d="M69.4 580.19 L81.04 580.19 L92.68 580.19 L104.32 580.19 L115.96 580.19 L127.6 580.19 L139.24 580.19 L150.88 580.19" fill="none" stroke="#6cb34a" stroke-width="1.15"/>
<path d="M67.3 581.89L69.4 578.29L71.5 581.89Z" fill="#6cb34a"/>
<path d="M78.94 581.89L81.04 578.29L83.14 581.89Z" fill="#6cb34a"/>
<path d="M90.58 581.89L92.68 578.29L94.78 581.89Z" fill="#6cb34a"/>
<path d="M102.22 581.89L104.32 578.29L106.42 581.89Z" fill="#6cb34a"/>
<path d="M113.86 581.89L115.96 578.29L118.06 581.89Z" fill="#6cb34a"/>
<path d="M125.5 581.89L127.6 578.29L129.7 581.89Z" fill="#6cb34a"/>
<path d="M137.14 581.89L139.24 578.29L141.34 581.89Z" fill="#6cb34a"/>
<path d="M148.78 581.89L150.88 578.29L152.98 581.89Z" fill="#6cb34a"/>
<path d="M69.4 580 L69.9 580 L70.4 580 L70.9 580 L71.4 580 L71.9 580 L72.4 580 L72.9 580 L73.4 580 L73.9 580 L74.4 580 L74.9 580 L75.4 580 L75.9 580 L76.4 580 L76.9 580 L77.4 580 L77.9 580 L78.4 580 L78.9 580 L79.4 580 L79.9 580 L80.4 580 L80.9 580 L81.4 580 L81.9 580 L82.4 580 L82.9 580 L83.4 580 L83.9 580 L84.4 580 L84.9 580 L85.4 580 L85.9 580 L86.4 580 L86.9 580 L87.4 580 L87.9 580 L88.4 580 L88.9 580 L89.4 580 L89.9 580 L90.4 580 L90.9 580 L91.4 580 L91.9 580 L92.4 580 L92.9 580 L93.4 580 L93.9 580 L94.4 580 L94.9 580 L95.4 580 L95.9 580 L96.4 580 L96.9 580 L97.4 580 L97.9 580 L98.4 580 L98.9 580 L99.4 580 L99.9 580 L100.4 580 L100.9 580 L101.4 580 L101.9 580 L102.4 580 L102.9 580 L103.4 580 L103.9 580 L104.4 580 L104.9 580 L105.4 580 L105.9 580 L106.4 580 L106.9 580 L107.4 580 L107.9 580 L108.4 580 L108.9 580 L109.4 580 L109.9 580 L110.4 580 L110.9 580 L111.4 580 L111.9 580 L112.4 580 L112.9 580 L113.4 580 L113.9 580 L114.4 580 L114.9 580 L115.4 580 L115.9 580 L116.4 580 L116.9 580 L117.4 580 L117.9 580 L118.4 580 L118.9 580 L119.4 580 L119.9 580 L120.4 580 L120.9 580 L121.4 580 L121.9 579.99 L122.4 579.99 L122.9 579.97 L123.4 579.95 L123.9 579.9 L124.4 579.82 L124.9 579.67 L125.4 579.4 L125.9 578.92 L126.4 578.09 L126.9 576.7 L127.4 574.47 L127.9 571.22 L128.4 567 L128.9 562.32 L129.4 557.96 L129.9 554.49 L130.4 552.07 L130.9 550.53 L131.4 549.61 L131.9 549.08 L132.4 548.77 L132.9 548.61 L133.4 548.51 L133.9 548.46 L134.4 548.43 L134.9 548.42 L135.4 548.41 L135.9 548.4 L136.4 548.4 L136.9 548.4 L137.4 548.4 L137.9 548.4 L138.4 548.4 L138.9 548.4 L139.4 548.4 L139.9 548.4 L140.4 548.4 L140.9 548.4 L141.4 548.4 L141.9 548.4 L142.4 548.4 L142.9 548.4 L143.4 548.4 L143.9 548.4 L144.4 548.4 L144.9 548.4 L145.4 548.4 L145.9 548.4 L146.4 548.4 L146.9 548.4 L147.4 548.4 L147.9 548.4 L148.4 548.4 L148.9 548.4 L149.4 548.4 L149.9 548.4 L150.4 548.4" fill="none" stroke="#213f86" stroke-width="1.15"/>
<rect x="67.6" y="578.2" width="3.6" height="3.6" fill="#213f86"/>
<rect x="79.24" y="578.2" width="3.6" height="3.6" fill="#213f86"/>
<rect x="90.88" y="578.2" width="3.6" height="3.6" fill="#213f86"/>
<rect x="102.52" y="578.2" width="3.6" height="3.6" fill="#213f86"/>
<rect x="114.16" y="578.2" width="3.6" height="3.6" fill="#213f86"/>
<rect x="125.8" y="568.7" width="3.6" height="3.6" fill="#213f86"/>
<rect x="137.44" y="544.39" width="3.6" height="3.6" fill="#213f86"/>
<rect x="149.08" y="548.29" width="3.6" height="3.6" fill="#213f86"/>
<path d="M69.4 579.5 L69.9 579.5 L70.4 579.5 L70.9 579.5 L71.4 579.5 L71.9 579.5 L72.4 579.5 L72.9 579.5 L73.4 579.5 L73.9 579.5 L74.4 579.5 L74.9 579.5 L75.4 579.5 L75.9 579.5 L76.4 579.5 L76.9 579.5 L77.4 579.5 L77.9 579.5 L78.4 579.5 L78.9 579.5 L79.4 579.5 L79.9 579.5 L80.4 579.5 L80.9 579.5 L81.4 579.5 L81.9 579.5 L82.4 579.5 L82.9 579.5 L83.4 579.5 L83.9 579.5 L84.4 579.5 L84.9 579.5 L85.4 579.5 L85.9 579.5 L86.4 579.5 L86.9 579.5 L87.4 579.5 L87.9 579.5 L88.4 579.5 L88.9 579.5 L89.4 579.5 L89.9 579.5 L90.4 579.5 L90.9 579.5 L91.4 579.5 L91.9 579.5 L92.4 579.5 L92.9 579.5 L93.4 579.5 L93.9 579.49 L94.4 579.49 L94.9 579.49 L95.4 579.49 L95.9 579.49 L96.4 579.49 L96.9 579.49 L97.4 579.49 L97.9 579.49 L98.4 579.49 L98.9 579.49 L99.4 579.48 L99.9 579.48 L100.4 579.48 L100.9 579.48 L101.4 579.48 L101.9 579.47 L102.4 579.47 L102.9 579.47 L103.4 579.46 L103.9 579.46 L104.4 579.46 L104.9 579.45 L105.4 579.45 L105.9 579.44 L106.4 579.43 L106.9 579.42 L107.4 579.42 L107.9 579.41 L108.4 579.4 L108.9 579.38 L109.4 579.37 L109.9 579.36 L110.4 579.34 L110.9 579.32 L111.4 579.3 L111.9 579.28 L112.4 579.25 L112.9 579.22 L113.4 579.19 L113.9 579.16 L114.4 579.12 L114.9 579.07 L115.4 579.03 L115.9 578.97 L116.4 578.91 L116.9 578.85 L117.4 578.77 L117.9 578.69 L118.4 578.6 L118.9 578.5 L119.4 578.38 L119.9 578.26 L120.4 578.12 L120.9 577.96 L121.4 577.79 L121.9 577.6 L122.4 577.4 L122.9 577.17 L123.4 576.91 L123.9 576.63 L124.4 576.32 L124.9 575.99 L125.4 575.62 L125.9 575.21 L126.4 574.77 L126.9 574.29 L127.4 573.76 L127.9 573.19 L128.4 572.58 L128.9 571.92 L129.4 571.2 L129.9 570.44 L130.4 569.63 L130.9 568.76 L131.4 567.85 L131.9 566.89 L132.4 565.88 L132.9 564.83 L133.4 563.74 L133.9 562.61 L134.4 561.46 L134.9 560.28 L135.4 559.08 L135.9 557.88 L136.4 556.67 L136.9 555.47 L137.4 554.27 L137.9 553.1 L138.4 551.95 L138.9 550.83 L139.4 549.75 L139.9 548.7 L140.4 547.7 L140.9 546.75 L141.4 545.85 L141.9 544.99 L142.4 544.19 L142.9 543.44 L143.4 542.74 L143.9 542.08 L144.4 541.48 L144.9 540.92 L145.4 540.4 L145.9 539.93 L146.4 539.49 L146.9 539.1 L147.4 538.73 L147.9 538.4 L148.4 538.1 L148.9 537.83 L149.4 537.58 L149.9 537.35 L150.4 537.15" fill="none" stroke="#ab0027" stroke-width="1.15"/>
<circle cx="69.4" cy="579.5" r="2.0" fill="#ab0027"/>
<circle cx="81.04" cy="579.5" r="2.0" fill="#ab0027"/>
<circle cx="92.68" cy="579.5" r="2.0" fill="#ab0027"/>
<circle cx="104.32" cy="579.5" r="2.0" fill="#ab0027"/>
<circle cx="115.96" cy="579.5" r="2.0" fill="#ab0027"/>
<circle cx="127.6" cy="573.1" r="2.0" fill="#ab0027"/>
<circle cx="139.24" cy="549.29" r="2.0" fill="#ab0027"/>
<circle cx="150.88" cy="536.89" r="2.0" fill="#ab0027"/>
<line x1="386.5" y1="500.3" x2="386.5" y2="581.05" stroke="#1a1a1a" stroke-width="1.1"/>
<line x1="385.95" y1="580.5" x2="505.8" y2="580.5" stroke="#1a1a1a" stroke-width="1.1"/>
<line x1="383.5" y1="580.5" x2="386.5" y2="580.5" stroke="#1a1a1a" stroke-width="1.1"/>
<text transform="translate(380.5,582.9) scale(1.180,1)" font-size="6.9" text-anchor="end" font-weight="normal" fill="#111" stroke="#111" stroke-width="0.1">0</text>
<line x1="383.5" y1="554.63" x2="386.5" y2="554.63" stroke="#1a1a1a" stroke-width="1.1"/>
<text transform="translate(380.5,557.03) scale(1.180,1)" font-size="6.9" text-anchor="end" font-weight="normal" fill="#111" stroke="#111" stroke-width="0.1">500</text>
<line x1="383.5" y1="528.77" x2="386.5" y2="528.77" stroke="#1a1a1a" stroke-width="1.1"/>
<text transform="translate(380.5,531.17) scale(1.180,1)" font-size="6.9" text-anchor="end" font-weight="normal" fill="#111" stroke="#111" stroke-width="0.1">1000</text>
<line x1="383.5" y1="502.9" x2="386.5" y2="502.9" stroke="#1a1a1a" stroke-width="1.1"/>
<text transform="translate(380.5,505.3) scale(1.180,1)" font-size="6.9" text-anchor="end" font-weight="normal" fill="#111" stroke="#111" stroke-width="0.1">1500</text>
<line x1="386.5" y1="580.5" x2="386.5" y2="583.3" stroke="#1a1a1a" stroke-width="1.1"/>
<text transform="translate(388.7,590) rotate(-45) scale(1.180,1)" font-size="6.9" text-anchor="end" font-weight="normal" fill="#111" stroke="#111" stroke-width="0.1">0.000001</text>
<line x1="409.66" y1="580.5" x2="409.66" y2="583.3" stroke="#1a1a1a" stroke-width="1.1"/>
<text transform="translate(411.86,590) rotate(-45) scale(1.180,1)" font-size="6.9" text-anchor="end" font-weight="normal" fill="#111" stroke="#111" stroke-width="0.1">0.0001</text>
<line x1="432.82" y1="580.5" x2="432.82" y2="583.3" stroke="#1a1a1a" stroke-width="1.1"/>
<text transform="translate(435.02,590) rotate(-45) scale(1.180,1)" font-size="6.9" text-anchor="end" font-weight="normal" fill="#111" stroke="#111" stroke-width="0.1">0.01</text>
<line x1="455.98" y1="580.5" x2="455.98" y2="583.3" stroke="#1a1a1a" stroke-width="1.1"/>
<text transform="translate(458.18,590) rotate(-45) scale(1.180,1)" font-size="6.9" text-anchor="end" font-weight="normal" fill="#111" stroke="#111" stroke-width="0.1">1</text>
<line x1="479.14" y1="580.5" x2="479.14" y2="583.3" stroke="#1a1a1a" stroke-width="1.1"/>
<text transform="translate(481.34,590) rotate(-45) scale(1.180,1)" font-size="6.9" text-anchor="end" font-weight="normal" fill="#111" stroke="#111" stroke-width="0.1">100</text>
<line x1="502.3" y1="580.5" x2="502.3" y2="583.3" stroke="#1a1a1a" stroke-width="1.1"/>
<text transform="translate(504.5,590) rotate(-45) scale(1.180,1)" font-size="6.9" text-anchor="end" font-weight="normal" fill="#111" stroke="#111" stroke-width="0.1">10000</text>
<text transform="translate(445.9,626) scale(0.623,1)" font-size="9.9" text-anchor="middle" font-weight="bold" fill="#222">Concentration (nM)</text>
<text transform="translate(415.8,498.2) scale(0.944,1)" font-size="7.7" text-anchor="start" font-weight="normal" fill="#111" stroke="#111" stroke-width="0.15">HEK 293 Parental</text>
<text transform="translate(356.3,540.7) rotate(-90) scale(0.679,1)" font-size="9.6" text-anchor="middle" font-weight="bold" fill="#222">gMFI</text>
<path d="M406.4 576 L418.04 576 L429.68 576 L441.32 576 L452.96 576 L464.6 576 L476.24 576 L487.88 575.02" fill="none" stroke="#c94662" stroke-width="1.7"/>
<rect x="404.6" y="574.1" width="3.6" height="3.6" fill="#213f86"/>
<rect x="416.24" y="574.1" width="3.6" height="3.6" fill="#213f86"/>
<rect x="427.88" y="574.1" width="3.6" height="3.6" fill="#213f86"/>
<rect x="439.52" y="574.1" width="3.6" height="3.6" fill="#213f86"/>
<rect x="451.16" y="574.1" width="3.6" height="3.6" fill="#213f86"/>
<rect x="462.8" y="574.1" width="3.6" height="3.6" fill="#213f86"/>
<rect x="474.44" y="574.1" width="3.6" height="3.6" fill="#213f86"/>
<rect x="486.08" y="573.89" width="3.6" height="3.6" fill="#213f86"/>
<circle cx="406.4" cy="576" r="2.0" fill="#ab0027"/>
<circle cx="418.04" cy="576" r="2.0" fill="#ab0027"/>
<circle cx="429.68" cy="576" r="2.0" fill="#ab0027"/>
<circle cx="441.32" cy="576" r="2.0" fill="#ab0027"/>
<circle cx="452.96" cy="576" r="2.0" fill="#ab0027"/>
<circle cx="464.6" cy="576" r="2.0" fill="#ab0027"/>
<circle cx="476.24" cy="576" r="2.0" fill="#ab0027"/>
<circle cx="487.88" cy="575.02" r="2.0" fill="#ab0027"/>
<line x1="171.5" y1="505.45" x2="180.2" y2="505.45" stroke="#ab0027" stroke-width="1.2"/>
<circle cx="175.8" cy="505.45" r="2.0" fill="#ab0027"/>
<text transform="translate(183.1,507.9) scale(0.900,1)" font-size="8.0" text-anchor="start" font-weight="normal" fill="#222" stroke="#222" stroke-width="0.1">JNJ-67571244</text>
<line x1="171.5" y1="516.55" x2="180.2" y2="516.55" stroke="#213f86" stroke-width="1.2"/>
<rect x="174" y="514.75" width="3.6" height="3.6" fill="#213f86"/>
<text transform="translate(183.1,519) scale(0.900,1)" font-size="8.0" text-anchor="start" font-weight="normal" fill="#222" stroke="#222" stroke-width="0.1">CD33xnull</text>
<line x1="171.5" y1="527.65" x2="180.2" y2="527.65" stroke="#6cb34a" stroke-width="1.2"/>
<path d="M173.7 529.35L175.8 525.75L177.9 529.35Z" fill="#6cb34a"/>
<text transform="translate(183.1,530.1) scale(0.900,1)" font-size="8.0" text-anchor="start" font-weight="normal" fill="#222" stroke="#222" stroke-width="0.1">nullxCD3</text>
<line x1="171.5" y1="538.75" x2="180.2" y2="538.75" stroke="#5b2b84" stroke-width="1.2"/>
<path d="M173.7 537.05L175.8 540.65L177.9 537.05Z" fill="#5b2b84"/>
<text transform="translate(183.1,541.2) scale(0.900,1)" font-size="8.0" text-anchor="start" font-weight="normal" fill="#222" stroke="#222" stroke-width="0.1">nullxnull</text>
</svg></body></html>
